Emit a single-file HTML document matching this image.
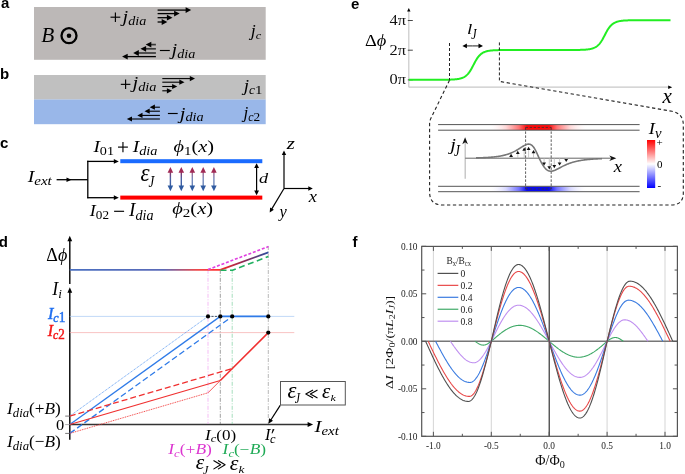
<!DOCTYPE html>
<html><head><meta charset="utf-8"><style>html,body{margin:0;padding:0;background:#fff;overflow:hidden}svg{display:block;will-change:transform}</style></head>
<body>
<svg width="685" height="474" viewBox="0 0 685 474">
<defs><linearGradient id="gArr" x1="0" y1="0" x2="0" y2="1"><stop offset="0" stop-color="#a02a55"/><stop offset="0.2" stop-color="#7a3a70"/><stop offset="0.5" stop-color="#4a64a8"/><stop offset="1" stop-color="#2f5aa0"/></linearGradient><linearGradient id="gPhiH" gradientUnits="userSpaceOnUse" x1="70" y1="0" x2="220" y2="0"><stop offset="0" stop-color="#4a6fc0"/><stop offset="0.62" stop-color="#5a6ab8"/><stop offset="0.85" stop-color="#f04848"/><stop offset="1" stop-color="#ff3030"/></linearGradient><linearGradient id="gPhiS" gradientUnits="userSpaceOnUse" x1="220" y1="0" x2="268" y2="0"><stop offset="0" stop-color="#ff2828"/><stop offset="0.5" stop-color="#8a2a55"/><stop offset="1" stop-color="#2f4f9f"/></linearGradient><linearGradient id="gRed" gradientUnits="userSpaceOnUse" x1="488" y1="0" x2="588" y2="0"><stop offset="0" stop-color="#fff" stop-opacity="0"/><stop offset="0.18" stop-color="#ffd8d8"/><stop offset="0.31" stop-color="#ff7575"/><stop offset="0.39" stop-color="#ff0a0a"/><stop offset="0.61" stop-color="#ff0a0a"/><stop offset="0.69" stop-color="#ff7575"/><stop offset="0.82" stop-color="#ffd8d8"/><stop offset="1" stop-color="#fff" stop-opacity="0"/></linearGradient><linearGradient id="gBlue" gradientUnits="userSpaceOnUse" x1="488" y1="0" x2="588" y2="0"><stop offset="0" stop-color="#fff" stop-opacity="0"/><stop offset="0.18" stop-color="#d8d8ff"/><stop offset="0.31" stop-color="#7575ff"/><stop offset="0.39" stop-color="#0a0af0"/><stop offset="0.61" stop-color="#0a0af0"/><stop offset="0.69" stop-color="#7575ff"/><stop offset="0.82" stop-color="#d8d8ff"/><stop offset="1" stop-color="#fff" stop-opacity="0"/></linearGradient><linearGradient id="gCb" x1="0" y1="0" x2="0" y2="1"><stop offset="0" stop-color="#ff0000"/><stop offset="0.5" stop-color="#ffffff"/><stop offset="1" stop-color="#0000ff"/></linearGradient></defs>
<rect id="bg" width="685" height="474" fill="#fff"/>
<text x="1" y="8" font-family="&quot;Liberation Sans&quot;, sans-serif" font-weight="bold" font-size="15">a</text>
<rect x="34" y="7" width="231.7" height="52.8" fill="#bcb8b7"/>
<text id="aB" transform="translate(41.18 42.08) scale(1.0153 1.0222)" x="0" y="0" font-family="&quot;Liberation Serif&quot;, serif" font-weight="normal" font-size="21" fill="#000"><tspan font-style="italic">B</tspan></text>
<circle cx="69" cy="35.7" r="7.5" fill="none" stroke="#000" stroke-width="2.3"/>
<circle cx="69" cy="35.7" r="2.3" fill="#000"/>
<text id="a_p" transform="translate(122.47 22.11) scale(1.1325 0.9254)" x="0" y="0" font-family="&quot;Liberation Serif&quot;, serif" font-weight="normal" font-size="18" fill="#000"><tspan font-style="italic">j</tspan><tspan font-style="italic" font-size="12.5" dy="3">dia</tspan></text>
<line x1="110.50" y1="17.20" x2="120.30" y2="17.20" stroke="#000" stroke-width="1.15" />
<line x1="115.40" y1="12.40" x2="115.40" y2="22.00" stroke="#000" stroke-width="1.15" />
<text id="a_m" transform="translate(171.57 54.83) scale(1.1357 0.9327)" x="0" y="0" font-family="&quot;Liberation Serif&quot;, serif" font-weight="normal" font-size="18" fill="#000"><tspan font-style="italic">j</tspan><tspan font-style="italic" font-size="12.5" dy="3">dia</tspan></text>
<line x1="159.90" y1="50.50" x2="169.80" y2="50.50" stroke="#000" stroke-width="1.15" />
<line x1="157.60" y1="10.10" x2="187.84" y2="10.10" stroke="#000" stroke-width="1.3" />
<polygon points="191.20,10.10 185.60,13.00 185.60,7.20" fill="#000"/>
<line x1="157.60" y1="13.60" x2="176.34" y2="13.60" stroke="#000" stroke-width="1.3" />
<polygon points="179.70,13.60 174.10,16.50 174.10,10.70" fill="#000"/>
<line x1="157.60" y1="17.70" x2="169.14" y2="17.70" stroke="#000" stroke-width="1.3" />
<polygon points="172.50,17.70 166.90,20.60 166.90,14.80" fill="#000"/>
<line x1="157.60" y1="22.00" x2="163.94" y2="22.00" stroke="#000" stroke-width="1.3" />
<polygon points="167.30,22.00 161.70,24.90 161.70,19.10" fill="#000"/>
<line x1="155.90" y1="44.60" x2="149.06" y2="44.60" stroke="#3a3a3a" stroke-width="1.7" />
<polygon points="145.70,44.60 151.30,41.70 151.30,47.50" fill="#000"/>
<line x1="155.90" y1="48.80" x2="143.86" y2="48.80" stroke="#3a3a3a" stroke-width="1.7" />
<polygon points="140.50,48.80 146.10,45.90 146.10,51.70" fill="#000"/>
<line x1="155.90" y1="53.00" x2="136.56" y2="53.00" stroke="#3a3a3a" stroke-width="1.7" />
<polygon points="133.20,53.00 138.80,50.10 138.80,55.90" fill="#000"/>
<line x1="155.90" y1="56.60" x2="125.46" y2="56.60" stroke="#000" stroke-width="1.3" />
<polygon points="122.10,56.60 127.70,53.70 127.70,59.50" fill="#000"/>
<text id="a_jc" transform="translate(250.68 36.46) scale(0.9967 0.8716)" x="0" y="0" font-family="&quot;Liberation Serif&quot;, serif" font-weight="normal" font-size="18" fill="#000"><tspan font-style="italic">j</tspan><tspan font-style="italic" font-size="12.5" dy="3">c</tspan></text>
<text x="0" y="79" font-family="&quot;Liberation Sans&quot;, sans-serif" font-weight="bold" font-size="15">b</text>
<rect x="34" y="75" width="231.7" height="24.6" fill="#c0c0c0"/>
<rect x="34" y="99.5" width="231.7" height="24.7" fill="#99b7e9"/>
<text id="b_p" transform="translate(132.45 88.46) scale(1.1496 0.9264)" x="0" y="0" font-family="&quot;Liberation Serif&quot;, serif" font-weight="normal" font-size="18" fill="#000"><tspan font-style="italic">j</tspan><tspan font-style="italic" font-size="12.5" dy="3">dia</tspan></text>
<line x1="120.80" y1="84.35" x2="130.40" y2="84.35" stroke="#000" stroke-width="1.15" />
<line x1="125.60" y1="79.60" x2="125.60" y2="89.10" stroke="#000" stroke-width="1.15" />
<text id="b_m" transform="translate(179.71 118.57) scale(1.1414 0.9266)" x="0" y="0" font-family="&quot;Liberation Serif&quot;, serif" font-weight="normal" font-size="18" fill="#000"><tspan font-style="italic">j</tspan><tspan font-style="italic" font-size="12.5" dy="3">dia</tspan></text>
<line x1="167.90" y1="113.50" x2="177.70" y2="113.50" stroke="#000" stroke-width="1.15" />
<line x1="162.30" y1="78.60" x2="191.88" y2="78.60" stroke="#000" stroke-width="1.1" />
<polygon points="195.00,78.60 189.80,81.20 189.80,76.00" fill="#000"/>
<line x1="162.30" y1="82.20" x2="181.38" y2="82.20" stroke="#000" stroke-width="1.1" />
<polygon points="184.50,82.20 179.30,84.80 179.30,79.60" fill="#000"/>
<line x1="162.30" y1="86.50" x2="174.18" y2="86.50" stroke="#000" stroke-width="1.1" />
<polygon points="177.30,86.50 172.10,89.10 172.10,83.90" fill="#000"/>
<line x1="162.30" y1="90.80" x2="168.98" y2="90.80" stroke="#000" stroke-width="1.1" />
<polygon points="172.10,90.80 166.90,93.40 166.90,88.20" fill="#000"/>
<line x1="159.90" y1="107.20" x2="152.82" y2="107.20" stroke="#000" stroke-width="1.1" />
<polygon points="149.70,107.20 154.90,104.60 154.90,109.80" fill="#000"/>
<line x1="159.90" y1="111.20" x2="147.62" y2="111.20" stroke="#000" stroke-width="1.1" />
<polygon points="144.50,111.20 149.70,108.60 149.70,113.80" fill="#000"/>
<line x1="159.90" y1="115.40" x2="140.42" y2="115.40" stroke="#000" stroke-width="1.1" />
<polygon points="137.30,115.40 142.50,112.80 142.50,118.00" fill="#000"/>
<line x1="159.90" y1="119.00" x2="129.92" y2="119.00" stroke="#000" stroke-width="1.1" />
<polygon points="126.80,119.00 132.00,116.40 132.00,121.60" fill="#000"/>
<text id="b_jc1" transform="translate(243.64 91.49) scale(1.0652 0.9324)" x="0" y="0" font-family="&quot;Liberation Serif&quot;, serif" font-weight="normal" font-size="18" fill="#000"><tspan font-style="italic">j</tspan><tspan font-style="italic" font-size="12.5" dy="3">c</tspan><tspan font-style="normal" font-size="14">1</tspan></text>
<text id="b_jc2" transform="translate(243.43 118.06) scale(0.9546 0.9333)" x="0" y="0" font-family="&quot;Liberation Serif&quot;, serif" font-weight="normal" font-size="18" fill="#000"><tspan font-style="italic">j</tspan><tspan font-style="italic" font-size="12.5" dy="3">c</tspan><tspan font-style="normal" font-size="14">2</tspan></text>
<text x="0" y="147.6" font-family="&quot;Liberation Sans&quot;, sans-serif" font-weight="bold" font-size="15">c</text>
<text id="c_iext" transform="translate(27.70 182.29) scale(1.1551 0.9699)" x="0" y="0" font-family="&quot;Liberation Serif&quot;, serif" font-weight="normal" font-size="17" fill="#000"><tspan font-style="italic">I</tspan><tspan font-style="italic" font-size="13" dy="3">ext</tspan></text>
<line x1="56.60" y1="179.70" x2="87.80" y2="179.70" stroke="#000" stroke-width="1.3" />
<polygon points="71.50,179.70 66.50,182.00 66.50,177.40" fill="#000"/>
<line x1="87.80" y1="160.80" x2="87.80" y2="198.30" stroke="#000" stroke-width="1.3" />
<line x1="87.20" y1="161.40" x2="115.80" y2="161.40" stroke="#000" stroke-width="1.3" />
<polygon points="118.80,161.40 113.80,163.80 113.80,159.00" fill="#000"/>
<line x1="87.20" y1="197.70" x2="115.80" y2="197.70" stroke="#000" stroke-width="1.3" />
<polygon points="118.80,197.70 113.80,200.10 113.80,195.30" fill="#000"/>
<rect x="120.3" y="159.2" width="142" height="4" fill="#1a6bff"/>
<rect x="120.3" y="195.6" width="142" height="4" fill="#ff0000"/>
<rect x="169.70000000000002" y="170" width="1.4" height="18" fill="url(#gArr)" opacity="1"/>
<polygon points="170.40,167.10 173.20,172.80 167.60,172.80" fill="#a02a55"/>
<polygon points="170.40,191.20 167.60,185.50 173.20,185.50" fill="#2f5aa0"/>
<rect x="180.60000000000002" y="170" width="1.4" height="18" fill="url(#gArr)" opacity="1"/>
<polygon points="181.30,167.10 184.10,172.80 178.50,172.80" fill="#a02a55"/>
<polygon points="181.30,191.20 178.50,185.50 184.10,185.50" fill="#2f5aa0"/>
<rect x="191.60000000000002" y="170" width="1.4" height="18" fill="url(#gArr)" opacity="0.75"/>
<polygon points="192.30,167.10 195.10,172.80 189.50,172.80" fill="#a02a55"/>
<polygon points="192.30,191.20 189.50,185.50 195.10,185.50" fill="#2f5aa0"/>
<rect x="202.5" y="170" width="1.4" height="18" fill="url(#gArr)" opacity="0.75"/>
<polygon points="203.20,167.10 206.00,172.80 200.40,172.80" fill="#a02a55"/>
<polygon points="203.20,191.20 200.40,185.50 206.00,185.50" fill="#2f5aa0"/>
<rect x="213.20000000000002" y="170" width="1.4" height="18" fill="url(#gArr)" opacity="0.75"/>
<polygon points="213.90,167.10 216.70,172.80 211.10,172.80" fill="#a02a55"/>
<polygon points="213.90,191.20 211.10,185.50 216.70,185.50" fill="#2f5aa0"/>
<line x1="256.60" y1="167.00" x2="256.60" y2="191.50" stroke="#000" stroke-width="1.2" />
<polygon points="256.60,163.20 259.00,168.00 254.20,168.00" fill="#000"/>
<polygon points="256.60,195.20 254.20,190.40 259.00,190.40" fill="#000"/>
<text id="c_d" transform="translate(258.88 182.93) scale(1.0765 0.8630)" x="0" y="0" font-family="&quot;Liberation Serif&quot;, serif" font-weight="normal" font-size="17" fill="#000"><tspan font-style="italic">d</tspan></text>
<text id="c_top" transform="translate(93.43 152.15) scale(1.1348 1.0215)" x="0" y="0" font-family="&quot;Liberation Serif&quot;, serif" font-weight="normal" font-size="17" fill="#000"><tspan font-style="italic">I</tspan><tspan font-style="normal" font-size="12.5" dy="3">01</tspan></text>
<line x1="118.00" y1="147.10" x2="127.90" y2="147.10" stroke="#000" stroke-width="1.15" />
<line x1="122.95" y1="142.00" x2="122.95" y2="152.20" stroke="#000" stroke-width="1.15" />
<text id="c_top2" transform="translate(132.72 151.86) scale(1.1434 0.9927)" x="0" y="0" font-family="&quot;Liberation Serif&quot;, serif" font-weight="normal" font-size="17" fill="#000"><tspan font-style="italic">I</tspan><tspan font-style="italic" font-size="12.5" dy="3">dia</tspan></text>
<text id="c_phi1" transform="translate(173.40 151.53) scale(1.1955 0.9948)" x="0" y="0" font-family="&quot;Liberation Serif&quot;, serif" font-weight="normal" font-size="17" fill="#000"><tspan font-style="italic">ϕ</tspan><tspan font-style="normal" font-size="12.5" dy="3">1</tspan><tspan font-style="normal" dy="-3">(</tspan><tspan font-style="italic">x</tspan><tspan font-style="normal">)</tspan></text>
<text id="c_bot" transform="translate(89.82 216.16) scale(1.0550 1.0131)" x="0" y="0" font-family="&quot;Liberation Serif&quot;, serif" font-weight="normal" font-size="17" fill="#000"><tspan font-style="italic">I</tspan><tspan font-style="normal" font-size="12.5" dy="3">02</tspan></text>
<line x1="114.10" y1="211.30" x2="124.10" y2="211.30" stroke="#000" stroke-width="1.15" />
<text id="c_bot2" transform="translate(129.10 216.43) scale(1.1300 1.0903)" x="0" y="0" font-family="&quot;Liberation Serif&quot;, serif" font-weight="normal" font-size="17" fill="#000"><tspan font-style="italic">I</tspan><tspan font-style="italic" font-size="12.5" dy="3">dia</tspan></text>
<text id="c_phi2" transform="translate(172.22 214.08) scale(1.2049 0.9269)" x="0" y="0" font-family="&quot;Liberation Serif&quot;, serif" font-weight="normal" font-size="17" fill="#000"><tspan font-style="italic">ϕ</tspan><tspan font-style="normal" font-size="12.5" dy="3">2</tspan><tspan font-style="normal" dy="-3">(</tspan><tspan font-style="italic">x</tspan><tspan font-style="normal">)</tspan></text>
<text id="c_eps" transform="translate(140.43 181.43) scale(1.2768 1.3665)" x="0" y="0" font-family="&quot;Liberation Serif&quot;, serif" font-weight="normal" font-size="18" fill="#000"><tspan font-style="italic">ε</tspan></text>
<text id="c_epsJ" transform="translate(148.46 186.81) scale(1.0792 1.3295)" x="0" y="0" font-family="&quot;Liberation Serif&quot;, serif" font-weight="normal" font-size="12" fill="#000"><tspan font-style="italic">J</tspan></text>
<line x1="284.00" y1="188.50" x2="284.00" y2="153.30" stroke="#000" stroke-width="1.2" />
<polygon points="284.00,150.60 286.20,155.10 281.80,155.10" fill="#000"/>
<line x1="284.00" y1="188.50" x2="310.10" y2="188.50" stroke="#000" stroke-width="1.2" />
<polygon points="312.80,188.50 308.30,190.70 308.30,186.30" fill="#000"/>
<line x1="284.00" y1="188.50" x2="271.08" y2="210.18" stroke="#000" stroke-width="1.2" />
<polygon points="269.70,212.50 270.11,207.51 273.89,209.76" fill="#000"/>
<text id="c_z" transform="translate(286.79 148.60) scale(1.3000 1.0000)" x="0" y="0" font-family="&quot;Liberation Serif&quot;, serif" font-weight="normal" font-size="16" fill="#000"><tspan font-style="italic">z</tspan></text>
<text id="c_x" transform="translate(308.64 201.59) scale(1.1519 1.0944)" x="0" y="0" font-family="&quot;Liberation Serif&quot;, serif" font-weight="normal" font-size="16" fill="#000"><tspan font-style="italic">x</tspan></text>
<text id="c_y" transform="translate(279.56 217.13) scale(1.0255 1.0422)" x="0" y="0" font-family="&quot;Liberation Serif&quot;, serif" font-weight="normal" font-size="16" fill="#000"><tspan font-style="italic">y</tspan></text>
<text x="-1.2" y="247" font-family="&quot;Liberation Sans&quot;, sans-serif" font-weight="bold" font-size="15">d</text>
<line x1="69.80" y1="284.00" x2="69.80" y2="240.00" stroke="#000" stroke-width="1.4" />
<polygon points="69.80,235.80 72.20,241.30 67.40,241.30" fill="#000"/>
<line x1="69.80" y1="439.80" x2="69.80" y2="291.00" stroke="#000" stroke-width="1.4" />
<polygon points="69.80,287.30 72.20,292.80 67.40,292.80" fill="#000"/>
<line x1="69.80" y1="424.50" x2="308.00" y2="424.50" stroke="#333" stroke-width="1.6" />
<polygon points="313.10,424.50 307.60,427.10 307.60,421.90" fill="#000"/>
<line x1="65.20" y1="416.10" x2="69.80" y2="416.10" stroke="#555" stroke-width="0.8" />
<line x1="65.20" y1="424.60" x2="69.80" y2="424.60" stroke="#999" stroke-width="0.8" />
<line x1="65.20" y1="433.40" x2="69.80" y2="433.40" stroke="#555" stroke-width="0.8" />
<line x1="69.80" y1="316.40" x2="294.30" y2="316.40" stroke="#a8c8f4" stroke-width="0.7" />
<line x1="69.80" y1="332.60" x2="294.30" y2="332.60" stroke="#f6aaaa" stroke-width="0.7" />
<line x1="208.00" y1="269.80" x2="208.00" y2="424.00" stroke="#f0a0f0" stroke-width="0.7" stroke-dasharray="4,1.5,1,1.5"/>
<line x1="220.30" y1="269.80" x2="220.30" y2="424.00" stroke="#777" stroke-width="0.7" stroke-dasharray="4,1.5,1,1.5"/>
<line x1="232.20" y1="269.80" x2="232.20" y2="424.00" stroke="#80d0a0" stroke-width="0.7" stroke-dasharray="4,1.5,1,1.5"/>
<line x1="268.30" y1="246.00" x2="268.30" y2="424.00" stroke="#999" stroke-width="0.7" stroke-dasharray="4,1.5,1,1.5"/>
<line x1="69.80" y1="416.10" x2="208.00" y2="316.40" stroke="#5a9af0" stroke-width="0.9" stroke-dasharray="1,0.8"/>
<line x1="69.80" y1="424.50" x2="220.30" y2="316.40" stroke="#2f7be8" stroke-width="1.3" />
<line x1="69.80" y1="433.40" x2="232.20" y2="316.40" stroke="#2f7be8" stroke-width="1.3" stroke-dasharray="6,3"/>
<line x1="220.30" y1="316.40" x2="268.30" y2="316.40" stroke="#2f7be8" stroke-width="1.8" />
<line x1="208.00" y1="316.40" x2="220.30" y2="316.40" stroke="#333" stroke-width="0.8" stroke-dasharray="2,1.5"/>
<line x1="69.80" y1="424.50" x2="220.30" y2="380.50" stroke="#f03030" stroke-width="1.3" />
<path d="M220.30,380.50 L268.30,332.60" fill="none" stroke="#f03030" stroke-width="1.6" stroke-linejoin="round" />
<line x1="69.80" y1="416.10" x2="232.20" y2="368.60" stroke="#f03030" stroke-width="1.3" stroke-dasharray="6,3"/>
<line x1="69.80" y1="433.40" x2="208.00" y2="392.80" stroke="#f03030" stroke-width="0.9" stroke-dasharray="1,0.8"/>
<line x1="208.00" y1="392.80" x2="220.30" y2="380.50" stroke="#f03030" stroke-width="0.8" />
<line x1="69.80" y1="269.80" x2="220.30" y2="269.80" stroke="url(#gPhiH)" stroke-width="1.8" />
<path d="M220.3,269.8 L268.4,252.4" stroke="url(#gPhiS)" stroke-width="1.8" fill="none"/>
<line x1="208.00" y1="269.60" x2="268.40" y2="246.60" stroke="#e040e0" stroke-width="1.6" stroke-dasharray="3,1.8"/>
<path d="M220.50,270.20 L232.50,270.20 L268.30,256.60" fill="none" stroke="#20b060" stroke-width="1.6" stroke-linejoin="round" stroke-dasharray="6,3.5"/>
<circle cx="208" cy="316.4" r="2.1" fill="#000"/>
<circle cx="220.3" cy="316.4" r="2.1" fill="#000"/>
<circle cx="232.2" cy="316.4" r="2.1" fill="#000"/>
<circle cx="268.3" cy="316.4" r="2.1" fill="#000"/>
<circle cx="268.3" cy="332.6" r="2.1" fill="#000"/>
<text id="d_dphi" transform="translate(46.35 261.02) scale(1.0015 0.9918)" x="0" y="0" font-family="&quot;Liberation Serif&quot;, serif" font-weight="normal" font-size="18" fill="#000"><tspan font-style="normal">Δ</tspan><tspan font-style="italic">ϕ</tspan></text>
<text id="d_ii" transform="translate(52.21 294.95) scale(1.0565 1.0773)" x="0" y="0" font-family="&quot;Liberation Serif&quot;, serif" font-weight="normal" font-size="17" fill="#000"><tspan font-style="italic">I</tspan><tspan font-style="italic" font-size="12.5" dy="3">i</tspan></text>
<text id="d_ic1" transform="translate(47.92 319.03) scale(0.9604 1.0302)" x="0" y="0" font-family="&quot;Liberation Serif&quot;, serif" font-weight="normal" font-size="17" fill="#1e6ef0" stroke="#1e6ef0" stroke-width="0.45"><tspan font-style="italic">I</tspan><tspan font-style="italic" font-size="12.5" dy="3">c</tspan><tspan font-style="normal" font-size="14">1</tspan></text>
<text id="d_ic2" transform="translate(47.82 336.33) scale(0.9346 0.9827)" x="0" y="0" font-family="&quot;Liberation Serif&quot;, serif" font-weight="normal" font-size="17" fill="#f51515" stroke="#f51515" stroke-width="0.45"><tspan font-style="italic">I</tspan><tspan font-style="italic" font-size="12.5" dy="3">c</tspan><tspan font-style="normal" font-size="14">2</tspan></text>
<text id="d_idp" transform="translate(7.08 414.25) scale(1.0158 0.9908)" x="0" y="0" font-family="&quot;Liberation Serif&quot;, serif" font-weight="normal" font-size="17" fill="#000"><tspan font-style="italic">I</tspan><tspan font-style="italic" font-size="12.5" dy="3">dia</tspan><tspan font-style="normal" dy="-3">(+</tspan><tspan font-style="italic">B</tspan><tspan font-style="normal">)</tspan></text>
<text id="d_zero" transform="translate(56.02 429.74) scale(1.0956 1.0255)" x="0" y="0" font-family="&quot;Liberation Serif&quot;, serif" font-weight="normal" font-size="15" fill="#000"><tspan font-style="normal">0</tspan></text>
<text id="d_idm" transform="translate(7.00 446.67) scale(1.0176 1.0364)" x="0" y="0" font-family="&quot;Liberation Serif&quot;, serif" font-weight="normal" font-size="17" fill="#000"><tspan font-style="italic">I</tspan><tspan font-style="italic" font-size="12.5" dy="3">dia</tspan><tspan font-style="normal" dy="-3">(−</tspan><tspan font-style="italic">B</tspan><tspan font-style="normal">)</tspan></text>
<text id="d_ic0" transform="translate(205.04 439.56) scale(1.0026 0.8916)" x="0" y="0" font-family="&quot;Liberation Serif&quot;, serif" font-weight="normal" font-size="17" fill="#000"><tspan font-style="italic">I</tspan><tspan font-style="italic" font-size="12.5" dy="3">c</tspan><tspan font-style="normal" dy="-3">(0)</tspan></text>
<text id="d_icpI" transform="translate(264.97 439.75) scale(0.9621 0.9447)" x="0" y="0" font-family="&quot;Liberation Serif&quot;, serif" font-weight="normal" font-size="17" fill="#000"><tspan font-style="italic">I</tspan></text>
<polygon points="272.7,428.9 274.5,429.2 272.3,433.5 271.6,433.3" fill="#000"/>
<text id="d_icpc" transform="translate(269.90 443.21) scale(0.9995 1.0430)" x="0" y="0" font-family="&quot;Liberation Serif&quot;, serif" font-weight="normal" font-size="12.5" fill="#000"><tspan font-style="italic">c</tspan></text>
<text id="d_icpb" transform="translate(168.14 454.35) scale(1.0289 0.8353)" x="0" y="0" font-family="&quot;Liberation Serif&quot;, serif" font-weight="normal" font-size="17" fill="#dc35d0"><tspan font-style="italic">I</tspan><tspan font-style="italic" font-size="12.5" dy="3">c</tspan><tspan font-style="normal" dy="-3">(+</tspan><tspan font-style="italic">B</tspan><tspan font-style="normal">)</tspan></text>
<text id="d_icmb" transform="translate(222.58 454.28) scale(1.0222 0.8291)" x="0" y="0" font-family="&quot;Liberation Serif&quot;, serif" font-weight="normal" font-size="17" fill="#1eaa55"><tspan font-style="italic">I</tspan><tspan font-style="italic" font-size="12.5" dy="3">c</tspan><tspan font-style="normal" dy="-3">(−</tspan><tspan font-style="italic">B</tspan><tspan font-style="normal">)</tspan></text>
<text id="d_iext" transform="translate(314.59 432.05) scale(1.1457 0.8918)" x="0" y="0" font-family="&quot;Liberation Serif&quot;, serif" font-weight="normal" font-size="18" fill="#000"><tspan font-style="italic">I</tspan><tspan font-style="italic" font-size="13" dy="3">ext</tspan></text>
<text id="d_e1" transform="translate(195.68 469.49) scale(1.1984 1.1837)" x="0" y="0" font-family="&quot;Liberation Serif&quot;, serif" font-weight="normal" font-size="18" fill="#000"><tspan font-style="italic">ε</tspan></text>
<text id="d_e1J" transform="translate(202.94 474.18) scale(1.0190 1.1026)" x="0" y="0" font-family="&quot;Liberation Serif&quot;, serif" font-weight="normal" font-size="12" fill="#000"><tspan font-style="italic">J</tspan></text>
<path d="M213.90,460.70 L220.62,464.80 L213.90,468.90" fill="none" stroke="#000" stroke-width="1.1" stroke-linejoin="round" stroke-linecap="round"/>
<path d="M218.38,460.70 L225.10,464.80 L218.38,468.90" fill="none" stroke="#000" stroke-width="1.1" stroke-linejoin="round" stroke-linecap="round"/>
<text id="d_e2" transform="translate(229.81 469.53) scale(1.2231 1.1924)" x="0" y="0" font-family="&quot;Liberation Serif&quot;, serif" font-weight="normal" font-size="18" fill="#000"><tspan font-style="italic">ε</tspan></text>
<text id="d_e2k" transform="translate(238.42 472.90) scale(1.0980 0.8446)" x="0" y="0" font-family="&quot;Liberation Serif&quot;, serif" font-weight="normal" font-size="12" fill="#000"><tspan font-style="italic">k</tspan></text>
<rect x="280.5" y="381.5" width="64.8" height="23.5" fill="#fff" stroke="#555" stroke-width="1"/>
<text id="d_e3" transform="translate(287.44 398.06) scale(1.2599 1.2262)" x="0" y="0" font-family="&quot;Liberation Serif&quot;, serif" font-weight="normal" font-size="18" fill="#000"><tspan font-style="italic">ε</tspan></text>
<text id="d_e3J" transform="translate(294.79 402.81) scale(0.9904 1.1738)" x="0" y="0" font-family="&quot;Liberation Serif&quot;, serif" font-weight="normal" font-size="12" fill="#000"><tspan font-style="italic">J</tspan></text>
<path d="M312.58,390.15 L305.80,394.00 L312.58,397.85" fill="none" stroke="#000" stroke-width="1.1" stroke-linejoin="round" stroke-linecap="round"/>
<path d="M317.10,390.15 L310.32,394.00 L317.10,397.85" fill="none" stroke="#000" stroke-width="1.1" stroke-linejoin="round" stroke-linecap="round"/>
<text id="d_e4" transform="translate(322.01 397.54) scale(1.1712 1.1689)" x="0" y="0" font-family="&quot;Liberation Serif&quot;, serif" font-weight="normal" font-size="18" fill="#000"><tspan font-style="italic">ε</tspan></text>
<text id="d_e4k" transform="translate(330.58 401.29) scale(1.0027 0.7713)" x="0" y="0" font-family="&quot;Liberation Serif&quot;, serif" font-weight="normal" font-size="12" fill="#000"><tspan font-style="italic">k</tspan></text>
<line x1="280.20" y1="405.40" x2="270.02" y2="421.27" stroke="#000" stroke-width="1.2" />
<polygon points="268.40,423.80 269.16,418.35 273.04,420.83" fill="#000"/>
<text x="351" y="9" font-family="&quot;Liberation Sans&quot;, sans-serif" font-weight="bold" font-size="15">e</text>
<line x1="408.80" y1="87.20" x2="408.80" y2="11.00" stroke="#c8c8c8" stroke-width="1.2" />
<polygon points="408.80,8.00 410.50,11.50 407.10,11.50" fill="#000"/>
<line x1="408.80" y1="87.20" x2="669.00" y2="87.20" stroke="#c8c8c8" stroke-width="1.2" />
<polygon points="672.20,87.20 668.20,89.00 668.20,85.40" fill="#000"/>
<line x1="407.80" y1="20.50" x2="412.80" y2="20.50" stroke="#333" stroke-width="0.9" />
<line x1="407.80" y1="50.20" x2="412.80" y2="50.20" stroke="#333" stroke-width="0.9" />
<line x1="407.80" y1="79.90" x2="412.80" y2="79.90" stroke="#333" stroke-width="0.9" />
<text transform="translate(406 25) scale(1.17 1)" font-family="&quot;Liberation Serif&quot;, serif" font-size="14" text-anchor="end" fill="#111">4π</text>
<text transform="translate(406 54.7) scale(1.17 1)" font-family="&quot;Liberation Serif&quot;, serif" font-size="14" text-anchor="end" fill="#111">2π</text>
<text transform="translate(406 84.2) scale(1.17 1)" font-family="&quot;Liberation Serif&quot;, serif" font-size="14" text-anchor="end" fill="#111">0π</text>
<text id="e_dphi" transform="translate(364.92 46.41) scale(1.1469 0.9872)" x="0" y="0" font-family="&quot;Liberation Serif&quot;, serif" font-weight="normal" font-size="16" fill="#000"><tspan font-style="normal">Δ</tspan><tspan font-style="italic">ϕ</tspan></text>
<path d="M409.00,79.80 L409.50,79.80 L410.00,79.80 L410.50,79.80 L411.00,79.80 L411.50,79.80 L412.00,79.80 L412.50,79.80 L413.00,79.80 L413.50,79.80 L414.00,79.80 L414.50,79.80 L415.00,79.80 L415.50,79.80 L416.00,79.80 L416.50,79.80 L417.00,79.80 L417.50,79.80 L418.00,79.80 L418.50,79.80 L419.00,79.80 L419.50,79.80 L420.00,79.80 L420.50,79.80 L421.00,79.80 L421.50,79.80 L422.00,79.80 L422.50,79.80 L423.00,79.80 L423.50,79.80 L424.00,79.80 L424.50,79.80 L425.00,79.80 L425.50,79.80 L426.00,79.80 L426.50,79.80 L427.00,79.80 L427.50,79.80 L428.00,79.80 L428.50,79.80 L429.00,79.80 L429.50,79.80 L430.00,79.80 L430.50,79.80 L431.00,79.80 L431.50,79.80 L432.00,79.80 L432.50,79.80 L433.00,79.80 L433.50,79.79 L434.00,79.79 L434.50,79.79 L435.00,79.79 L435.50,79.79 L436.00,79.79 L436.50,79.79 L437.00,79.79 L437.50,79.79 L438.00,79.79 L438.50,79.79 L439.00,79.78 L439.50,79.78 L440.00,79.78 L440.50,79.78 L441.00,79.78 L441.50,79.77 L442.00,79.77 L442.50,79.77 L443.00,79.76 L443.50,79.76 L444.00,79.75 L444.50,79.75 L445.00,79.74 L445.50,79.74 L446.00,79.73 L446.50,79.72 L447.00,79.72 L447.50,79.71 L448.00,79.70 L448.50,79.68 L449.00,79.67 L449.50,79.66 L450.00,79.64 L450.50,79.63 L451.00,79.61 L451.50,79.59 L452.00,79.56 L452.50,79.54 L453.00,79.51 L453.50,79.48 L454.00,79.45 L454.50,79.41 L455.00,79.37 L455.50,79.32 L456.00,79.27 L456.50,79.21 L457.00,79.15 L457.50,79.08 L458.00,79.00 L458.50,78.91 L459.00,78.82 L459.50,78.71 L460.00,78.60 L460.50,78.47 L461.00,78.32 L461.50,78.17 L462.00,77.99 L462.50,77.80 L463.00,77.58 L463.50,77.35 L464.00,77.09 L464.50,76.80 L465.00,76.49 L465.50,76.14 L466.00,75.76 L466.50,75.34 L467.00,74.88 L467.50,74.38 L468.00,73.83 L468.50,73.24 L469.00,72.59 L469.50,71.90 L470.00,71.16 L470.50,70.38 L471.00,69.54 L471.50,68.67 L472.00,67.76 L472.50,66.82 L473.00,65.87 L473.50,64.90 L474.00,63.93 L474.50,62.98 L475.00,62.04 L475.50,61.13 L476.00,60.26 L476.50,59.42 L477.00,58.64 L477.50,57.90 L478.00,57.21 L478.50,56.56 L479.00,55.97 L479.50,55.42 L480.00,54.92 L480.50,54.46 L481.00,54.04 L481.50,53.66 L482.00,53.31 L482.50,53.00 L483.00,52.71 L483.50,52.45 L484.00,52.22 L484.50,52.00 L485.00,51.81 L485.50,51.63 L486.00,51.48 L486.50,51.33 L487.00,51.20 L487.50,51.09 L488.00,50.98 L488.50,50.89 L489.00,50.80 L489.50,50.72 L490.00,50.65 L490.50,50.59 L491.00,50.53 L491.50,50.48 L492.00,50.43 L492.50,50.39 L493.00,50.35 L493.50,50.32 L494.00,50.29 L494.50,50.26 L495.00,50.24 L495.50,50.21 L496.00,50.19 L496.50,50.17 L497.00,50.16 L497.50,50.14 L498.00,50.13 L498.50,50.12 L499.00,50.10 L499.50,50.09 L500.00,50.08 L500.50,50.08 L501.00,50.07 L501.50,50.06 L502.00,50.06 L502.50,50.05 L503.00,50.05 L503.50,50.04 L504.00,50.04 L504.50,50.03 L505.00,50.03 L505.50,50.03 L506.00,50.02 L506.50,50.02 L507.00,50.02 L507.50,50.02 L508.00,50.02 L508.50,50.01 L509.00,50.01 L509.50,50.01 L510.00,50.01 L510.50,50.01 L511.00,50.01 L511.50,50.01 L512.00,50.01 L512.50,50.01 L513.00,50.01 L513.50,50.01 L514.00,50.00 L514.50,50.00 L515.00,50.00 L515.50,50.00 L516.00,50.00 L516.50,50.00 L517.00,50.00 L517.50,50.00 L518.00,50.00 L518.50,50.00 L519.00,50.00 L519.50,50.00 L520.00,50.00 L520.50,50.00 L521.00,50.00 L521.50,50.00 L522.00,50.00 L522.50,50.00 L523.00,50.00 L523.50,50.00 L524.00,50.00 L524.50,50.00 L525.00,50.00 L525.50,50.00 L526.00,50.00 L526.50,50.00 L527.00,50.00 L527.50,50.00 L528.00,50.00 L528.50,50.00 L529.00,50.00 L529.50,50.00 L530.00,50.00 L530.50,50.00 L531.00,50.00 L531.50,50.00 L532.00,50.00 L532.50,50.00 L533.00,50.00 L533.50,50.00 L534.00,50.00 L534.50,50.00 L535.00,50.00 L535.50,50.00 L536.00,50.00 L536.50,50.00 L537.00,50.00 L537.50,50.00 L538.00,50.00 L538.50,50.00 L539.00,50.00 L539.50,50.00 L540.00,50.00 L540.50,50.00 L541.00,50.00 L541.50,50.00 L542.00,50.00 L542.50,50.00 L543.00,50.00 L543.50,50.00 L544.00,50.00 L544.50,50.00 L545.00,50.00 L545.50,50.00 L546.00,50.00 L546.50,50.00 L547.00,50.00 L547.50,50.00 L548.00,50.00 L548.50,50.00 L549.00,50.00 L549.50,50.00 L550.00,50.00 L550.50,50.00 L551.00,50.00 L551.50,50.00 L552.00,50.00 L552.50,50.00 L553.00,50.00 L553.50,50.00 L554.00,50.00 L554.50,50.00 L555.00,50.00 L555.50,50.00 L556.00,50.00 L556.50,50.00 L557.00,50.00 L557.50,50.00 L558.00,50.00 L558.50,50.00 L559.00,50.00 L559.50,50.00 L560.00,50.00 L560.50,50.00 L561.00,50.00 L561.50,50.00 L562.00,50.00 L562.50,50.00 L563.00,50.00 L563.50,50.00 L564.00,50.00 L564.50,49.99 L565.00,49.99 L565.50,49.99 L566.00,49.99 L566.50,49.99 L567.00,49.99 L567.50,49.99 L568.00,49.99 L568.50,49.99 L569.00,49.99 L569.50,49.99 L570.00,49.98 L570.50,49.98 L571.00,49.98 L571.50,49.98 L572.00,49.98 L572.50,49.97 L573.00,49.97 L573.50,49.97 L574.00,49.96 L574.50,49.96 L575.00,49.96 L575.50,49.95 L576.00,49.95 L576.50,49.94 L577.00,49.93 L577.50,49.93 L578.00,49.92 L578.50,49.91 L579.00,49.90 L579.50,49.89 L580.00,49.88 L580.50,49.87 L581.00,49.85 L581.50,49.84 L582.00,49.82 L582.50,49.80 L583.00,49.78 L583.50,49.75 L584.00,49.73 L584.50,49.70 L585.00,49.67 L585.50,49.63 L586.00,49.59 L586.50,49.55 L587.00,49.50 L587.50,49.44 L588.00,49.38 L588.50,49.32 L589.00,49.25 L589.50,49.16 L590.00,49.08 L590.50,48.98 L591.00,48.87 L591.50,48.74 L592.00,48.61 L592.50,48.46 L593.00,48.30 L593.50,48.12 L594.00,47.91 L594.50,47.69 L595.00,47.45 L595.50,47.18 L596.00,46.88 L596.50,46.55 L597.00,46.19 L597.50,45.79 L598.00,45.36 L598.50,44.88 L599.00,44.36 L599.50,43.80 L600.00,43.19 L600.50,42.52 L601.00,41.81 L601.50,41.05 L602.00,40.25 L602.50,39.40 L603.00,38.51 L603.50,37.59 L604.00,36.64 L604.50,35.68 L605.00,34.71 L605.50,33.75 L606.00,32.80 L606.50,31.87 L607.00,30.98 L607.50,30.12 L608.00,29.30 L608.50,28.53 L609.00,27.81 L609.50,27.14 L610.00,26.52 L610.50,25.95 L611.00,25.42 L611.50,24.93 L612.00,24.49 L612.50,24.09 L613.00,23.72 L613.50,23.38 L614.00,23.08 L614.50,22.80 L615.00,22.55 L615.50,22.33 L616.00,22.12 L616.50,21.94 L617.00,21.77 L617.50,21.62 L618.00,21.48 L618.50,21.36 L619.00,21.24 L619.50,21.14 L620.00,21.05 L620.50,20.97 L621.00,20.90 L621.50,20.83 L622.00,20.77 L622.50,20.71 L623.00,20.66 L623.50,20.62 L624.00,20.58 L624.50,20.54 L625.00,20.51 L625.50,20.48 L626.00,20.45 L626.50,20.43 L627.00,20.40 L627.50,20.38 L628.00,20.37 L628.50,20.35 L629.00,20.34 L629.50,20.32 L630.00,20.31 L630.50,20.30 L631.00,20.29 L631.50,20.28 L632.00,20.27 L632.50,20.27 L633.00,20.26 L633.50,20.25 L634.00,20.25 L634.50,20.24 L635.00,20.24 L635.50,20.24 L636.00,20.23 L636.50,20.23 L637.00,20.23 L637.50,20.22 L638.00,20.22 L638.50,20.22 L639.00,20.22 L639.50,20.22 L640.00,20.21 L640.50,20.21 L641.00,20.21 L641.50,20.21 L642.00,20.21 L642.50,20.21 L643.00,20.21 L643.50,20.21 L644.00,20.21 L644.50,20.21 L645.00,20.21 L645.50,20.20 L646.00,20.20 L646.50,20.20 L647.00,20.20 L647.50,20.20 L648.00,20.20 L648.50,20.20 L649.00,20.20 L649.50,20.20 L650.00,20.20 L650.50,20.20 L651.00,20.20 L651.50,20.20 L652.00,20.20 L652.50,20.20 L653.00,20.20 L653.50,20.20 L654.00,20.20 L654.50,20.20 L655.00,20.20 L655.50,20.20 L656.00,20.20 L656.50,20.20 L657.00,20.20 L657.50,20.20 L658.00,20.20 L658.50,20.20 L659.00,20.20 L659.50,20.20 L660.00,20.20 L660.50,20.20 L661.00,20.20 L661.50,20.20 L662.00,20.20 L662.50,20.20 L663.00,20.20 L663.50,20.20 L664.00,20.20 L664.50,20.20 L665.00,20.20 L665.50,20.20 L666.00,20.20 L666.50,20.20 L667.00,20.20 L667.50,20.20 L668.00,20.20 L668.50,20.20 L669.00,20.20 L669.50,20.20 L670.00,20.20 L670.50,20.20" fill="none" stroke="#22ee22" stroke-width="2" stroke-linejoin="round" />
<line x1="449.50" y1="43.00" x2="449.50" y2="80.00" stroke="#222" stroke-width="1" stroke-dasharray="3,2"/>
<line x1="499.40" y1="42.40" x2="499.40" y2="81.20" stroke="#222" stroke-width="1" stroke-dasharray="3,2"/>
<line x1="472.70" y1="45.90" x2="480.30" y2="45.90" stroke="#444" stroke-width="1.2" />
<polygon points="483.00,45.90 478.50,48.30 478.50,43.50" fill="#000"/>
<line x1="472.70" y1="45.90" x2="465.10" y2="45.90" stroke="#444" stroke-width="1.2" />
<polygon points="462.40,45.90 466.90,43.50 466.90,48.30" fill="#000"/>
<text id="e_lj" transform="translate(467.03 33.87) scale(1.1893 0.9753)" x="0" y="0" font-family="&quot;Liberation Serif&quot;, serif" font-weight="normal" font-size="16" fill="#000"><tspan font-style="italic">l</tspan></text>
<text id="e_ljJ" transform="translate(471.25 39.13) scale(1.0952 1.3370)" x="0" y="0" font-family="&quot;Liberation Serif&quot;, serif" font-weight="normal" font-size="11" fill="#000"><tspan font-style="italic">J</tspan></text>
<text id="e_x" transform="translate(662.43 102.53) scale(1.2448 1.1762)" x="0" y="0" font-family="&quot;Liberation Serif&quot;, serif" font-weight="normal" font-size="17" fill="#000"><tspan font-style="italic">x</tspan></text>
<path d="M449.5,80.2 L430.8,118.5 Q429.6,121 429.6,124 L429.6,192 Q429.6,205 442.6,205 L671,205 Q683.3,205 683.3,193 L683.3,125 Q683.3,113.5 672,111.3 L499.4,81.4" fill="none" stroke="#222" stroke-width="1.1" stroke-dasharray="3.3,2.6"/>
<rect x="438.1" y="125" width="201.5" height="5" fill="url(#gRed)"/>
<rect x="438.1" y="186.5" width="201.5" height="5" fill="url(#gBlue)"/>
<line x1="438.10" y1="124.60" x2="639.60" y2="124.60" stroke="#555" stroke-width="1" />
<line x1="438.10" y1="130.20" x2="639.60" y2="130.20" stroke="#555" stroke-width="1" />
<line x1="438.10" y1="186.30" x2="639.60" y2="186.30" stroke="#555" stroke-width="1" />
<line x1="438.10" y1="191.70" x2="639.60" y2="191.70" stroke="#555" stroke-width="1" />
<line x1="525.60" y1="127.40" x2="525.60" y2="189.00" stroke="#333" stroke-width="0.8" stroke-dasharray="2.5,1.5"/>
<line x1="551.20" y1="127.40" x2="551.20" y2="189.00" stroke="#333" stroke-width="0.8" stroke-dasharray="2.5,1.5"/>
<line x1="525.60" y1="127.40" x2="551.20" y2="127.40" stroke="#333" stroke-width="0.8" stroke-dasharray="2.5,1.5"/>
<line x1="525.60" y1="189.00" x2="551.20" y2="189.00" stroke="#333" stroke-width="0.8" stroke-dasharray="2.5,1.5"/>
<line x1="465.20" y1="178.80" x2="465.20" y2="141.00" stroke="#bbb" stroke-width="1.2" />
<polygon points="465.10,137.30 467.90,144.30 465.10,142.30 462.30,144.30" fill="#111"/>
<line x1="465.20" y1="158.20" x2="612.00" y2="158.20" stroke="#666" stroke-width="1" />
<polygon points="616.30,158.30 609.30,161.10 611.30,158.30 609.30,155.50" fill="#111"/>
<path d="M476.00,157.92 L476.50,157.91 L477.00,157.89 L477.50,157.88 L478.00,157.87 L478.50,157.85 L479.00,157.84 L479.50,157.82 L480.00,157.81 L480.50,157.79 L481.00,157.77 L481.50,157.75 L482.00,157.74 L482.50,157.72 L483.00,157.69 L483.50,157.67 L484.00,157.65 L484.50,157.63 L485.00,157.60 L485.50,157.58 L486.00,157.55 L486.50,157.52 L487.00,157.49 L487.50,157.46 L488.00,157.43 L488.50,157.40 L489.00,157.36 L489.50,157.33 L490.00,157.29 L490.50,157.25 L491.00,157.21 L491.50,157.17 L492.00,157.12 L492.50,157.08 L493.00,157.03 L493.50,156.98 L494.00,156.93 L494.50,156.87 L495.00,156.82 L495.50,156.76 L496.00,156.70 L496.50,156.63 L497.00,156.56 L497.50,156.49 L498.00,156.42 L498.50,156.35 L499.00,156.27 L499.50,156.18 L500.00,156.10 L500.50,156.01 L501.00,155.92 L501.50,155.82 L502.00,155.72 L502.50,155.61 L503.00,155.50 L503.50,155.39 L504.00,155.27 L504.50,155.15 L505.00,155.02 L505.50,154.89 L506.00,154.75 L506.50,154.60 L507.00,154.45 L507.50,154.30 L508.00,154.13 L508.50,153.96 L509.00,153.79 L509.50,153.61 L510.00,153.42 L510.50,153.22 L511.00,153.02 L511.50,152.81 L512.00,152.60 L512.50,152.37 L513.00,152.14 L513.50,151.90 L514.00,151.65 L514.50,151.40 L515.00,151.13 L515.50,150.87 L516.00,150.59 L516.50,150.30 L517.00,150.01 L517.50,149.72 L518.00,149.41 L518.50,149.10 L519.00,148.79 L519.50,148.47 L520.00,148.15 L520.50,147.83 L521.00,147.51 L521.50,147.19 L522.00,146.87 L522.50,146.55 L523.00,146.25 L523.50,145.95 L524.00,145.66 L524.50,145.38 L525.00,145.13 L525.50,144.89 L526.00,144.67 L526.50,144.49 L527.00,144.33 L527.50,144.21 L528.00,144.14 L528.50,144.10 L529.00,144.12 L529.50,144.18 L530.00,144.31 L530.50,144.49 L531.00,144.75 L531.50,145.07 L532.00,145.46 L532.50,145.92 L533.00,146.47 L533.50,147.08 L534.00,147.78 L534.50,148.54 L535.00,149.38 L535.50,150.28 L536.00,151.25 L536.50,152.28 L537.00,153.35 L537.50,154.46 L538.00,155.61 L538.50,156.78 L539.00,157.96 L539.50,158.98 L540.00,159.95 L540.50,160.91 L541.00,161.85 L541.50,162.77 L542.00,163.65 L542.50,164.50 L543.00,165.31 L543.50,166.07 L544.00,166.78 L544.50,167.44 L545.00,168.05 L545.50,168.60 L546.00,169.10 L546.50,169.54 L547.00,169.92 L547.50,170.25 L548.00,170.53 L548.50,170.76 L549.00,170.93 L549.50,171.06 L550.00,171.15 L550.50,171.19 L551.00,171.20 L551.50,171.17 L552.00,171.10 L552.50,171.01 L553.00,170.89 L553.50,170.75 L554.00,170.58 L554.50,170.40 L555.00,170.20 L555.50,169.98 L556.00,169.75 L556.50,169.51 L557.00,169.27 L557.50,169.02 L558.00,168.76 L558.50,168.50 L559.00,168.23 L559.50,167.96 L560.00,167.70 L560.50,167.43 L561.00,167.17 L561.50,166.91 L562.00,166.65 L562.50,166.39 L563.00,166.14 L563.50,165.89 L564.00,165.65 L564.50,165.41 L565.00,165.18 L565.50,164.95 L566.00,164.73 L566.50,164.51 L567.00,164.30 L567.50,164.09 L568.00,163.89 L568.50,163.70 L569.00,163.51 L569.50,163.33 L570.00,163.15 L570.50,162.98 L571.00,162.81 L571.50,162.65 L572.00,162.49 L572.50,162.34 L573.00,162.19 L573.50,162.05 L574.00,161.91 L574.50,161.78 L575.00,161.65 L575.50,161.53 L576.00,161.41 L576.50,161.29 L577.00,161.18 L577.50,161.07 L578.00,160.97 L578.50,160.87 L579.00,160.77 L579.50,160.68 L580.00,160.59 L580.50,160.50 L581.00,160.42 L581.50,160.33 L582.00,160.26 L582.50,160.18 L583.00,160.11 L583.50,160.04 L584.00,159.97 L584.50,159.91 L585.00,159.84 L585.50,159.78 L586.00,159.73 L586.50,159.67 L587.00,159.62 L587.50,159.56 L588.00,159.51 L588.50,159.47 L589.00,159.42 L589.50,159.37 L590.00,159.33 L590.50,159.29 L591.00,159.25 L591.50,159.21 L592.00,159.17 L592.50,159.14 L593.00,159.10 L593.50,159.07 L594.00,159.04 L594.50,159.01 L595.00,158.98 L595.50,158.95 L596.00,158.92 L596.50,158.89 L597.00,158.87 L597.50,158.84 L598.00,158.82 L598.50,158.80 L599.00,158.78 L599.50,158.75 L600.00,158.73 L600.50,158.71 L601.00,158.70 L601.50,158.68 L602.00,158.66" fill="none" stroke="#777" stroke-width="1.6" stroke-linejoin="round" />
<line x1="511.10" y1="158.20" x2="511.10" y2="156.20" stroke="#bbb" stroke-width="0.8" />
<polygon points="511.10,153.70 513.00,156.90 509.20,156.90" fill="#111"/>
<line x1="517.80" y1="158.20" x2="517.80" y2="153.30" stroke="#bbb" stroke-width="0.8" />
<polygon points="517.80,150.80 519.70,154.00 515.90,154.00" fill="#111"/>
<line x1="524.20" y1="158.20" x2="524.20" y2="150.10" stroke="#bbb" stroke-width="0.8" />
<polygon points="524.20,147.60 526.10,150.80 522.30,150.80" fill="#111"/>
<line x1="528.60" y1="158.20" x2="528.60" y2="149.20" stroke="#bbb" stroke-width="0.8" />
<polygon points="528.60,146.70 530.50,149.90 526.70,149.90" fill="#111"/>
<line x1="533.50" y1="158.20" x2="533.50" y2="152.50" stroke="#bbb" stroke-width="0.8" />
<polygon points="533.50,150.00 535.40,153.20 531.60,153.20" fill="#111"/>
<line x1="544.10" y1="158.20" x2="544.10" y2="163.10" stroke="#bbb" stroke-width="0.8" />
<polygon points="544.10,165.60 542.20,162.40 546.00,162.40" fill="#111"/>
<line x1="549.30" y1="158.20" x2="549.30" y2="167.00" stroke="#bbb" stroke-width="0.8" />
<polygon points="549.30,169.50 547.40,166.30 551.20,166.30" fill="#111"/>
<line x1="554.30" y1="158.20" x2="554.30" y2="165.80" stroke="#bbb" stroke-width="0.8" />
<polygon points="554.30,168.30 552.40,165.10 556.20,165.10" fill="#111"/>
<line x1="559.60" y1="158.20" x2="559.60" y2="163.10" stroke="#bbb" stroke-width="0.8" />
<polygon points="559.60,165.60 557.70,162.40 561.50,162.40" fill="#111"/>
<line x1="566.20" y1="158.20" x2="566.20" y2="159.60" stroke="#bbb" stroke-width="0.8" />
<polygon points="566.20,162.10 564.30,158.90 568.10,158.90" fill="#111"/>
<text id="e_jj" transform="translate(450.23 149.91) scale(1.2738 0.9799)" x="0" y="0" font-family="&quot;Liberation Serif&quot;, serif" font-weight="normal" font-size="16" fill="#000"><tspan font-style="italic">j</tspan></text>
<text id="e_jjJ" transform="translate(454.00 156.25) scale(1.2073 1.4344)" x="0" y="0" font-family="&quot;Liberation Serif&quot;, serif" font-weight="normal" font-size="11" fill="#000"><tspan font-style="italic">J</tspan></text>
<text id="e_x2" transform="translate(613.70 171.87) scale(1.0860 1.0356)" x="0" y="0" font-family="&quot;Liberation Serif&quot;, serif" font-weight="normal" font-size="17" fill="#000"><tspan font-style="italic">x</tspan></text>
<rect x="647" y="140" width="8.2" height="48" fill="url(#gCb)"/>
<text id="e_iv" transform="translate(648.83 134.38) scale(1.2246 1.1709)" x="0" y="0" font-family="&quot;Liberation Serif&quot;, serif" font-weight="normal" font-size="15" fill="#000"><tspan font-style="italic">I</tspan><tspan font-style="italic" font-size="12" dy="3">v</tspan></text>
<text x="656.5" y="146" font-family="&quot;Liberation Serif&quot;, serif" font-size="11">+</text>
<text x="657" y="167.5" font-family="&quot;Liberation Serif&quot;, serif" font-size="11">0</text>
<text x="657.5" y="189" font-family="&quot;Liberation Serif&quot;, serif" font-size="11">-</text>
<text x="352.5" y="247" font-family="&quot;Liberation Sans&quot;, sans-serif" font-weight="bold" font-size="15">f</text>
<line x1="433.40" y1="246.40" x2="433.40" y2="436.30" stroke="#d0d0d0" stroke-width="0.9" />
<line x1="491.30" y1="246.40" x2="491.30" y2="436.30" stroke="#d0d0d0" stroke-width="0.9" />
<line x1="607.10" y1="246.40" x2="607.10" y2="436.30" stroke="#d0d0d0" stroke-width="0.9" />
<line x1="665.00" y1="246.40" x2="665.00" y2="436.30" stroke="#d0d0d0" stroke-width="0.9" />
<line x1="549.20" y1="246.40" x2="549.20" y2="436.30" stroke="#222" stroke-width="1.1" />
<line x1="421.70" y1="341.30" x2="677.40" y2="341.30" stroke="#777" stroke-width="1.6" />
<path d="M475.09,341.30 L475.46,341.57 L475.83,341.84 L476.20,342.11 L476.57,342.38 L476.94,342.64 L477.31,342.89 L477.68,343.13 L478.05,343.36 L478.42,343.59 L478.79,343.80 L479.16,344.00 L479.53,344.18 L479.91,344.35 L480.28,344.51 L480.65,344.65 L481.02,344.77 L481.39,344.87 L481.76,344.95 L482.13,345.02 L482.50,345.07 L482.87,345.09 L483.24,345.10 L483.61,345.09 L483.98,345.06 L484.35,345.00 L484.72,344.93 L485.09,344.85 L485.46,344.74 L485.83,344.61 L486.20,344.47 L486.58,344.31 L486.95,344.14 L487.32,343.95 L487.69,343.75 L488.06,343.53 L488.43,343.31 L488.80,343.07 L489.17,342.82 L489.54,342.57 L489.91,342.31 L490.28,342.05 L490.65,341.78 L491.02,341.50 L491.39,341.22 L491.76,340.89 L492.13,340.56 L492.50,340.24 L492.87,339.91 L493.25,339.58 L493.62,339.26 L493.99,338.93 L494.36,338.61 L494.73,338.29 L495.10,337.97 L495.47,337.65 L495.84,337.33 L496.21,337.01 L496.58,336.70 L496.95,336.39 L497.32,336.08 L497.69,335.77 L498.06,335.46 L498.43,335.16 L498.80,334.86 L499.17,334.56 L499.54,334.26 L499.92,333.97 L500.29,333.68 L500.66,333.40 L501.03,333.11 L501.40,332.83 L501.77,332.56 L502.14,332.29 L502.51,332.02 L502.88,331.75 L503.25,331.49 L503.62,331.24 L503.99,330.99 L504.36,330.74 L504.73,330.49 L505.10,330.26 L505.47,330.02 L505.84,329.79 L506.22,329.57 L506.59,329.35 L506.96,329.13 L507.33,328.92 L507.70,328.72 L508.07,328.52 L508.44,328.33 L508.81,328.14 L509.18,327.96 L509.55,327.78 L509.92,327.61 L510.29,327.44 L510.66,327.28 L511.03,327.13 L511.40,326.98 L511.77,326.84 L512.14,326.71 L512.51,326.58 L512.89,326.45 L513.26,326.34 L513.63,326.23 L514.00,326.12 L514.37,326.02 L514.74,325.93 L515.11,325.85 L515.48,325.77 L515.85,325.70 L516.22,325.63 L516.59,325.57 L516.96,325.52 L517.33,325.47 L517.70,325.43 L518.07,325.40 L518.44,325.38 L518.81,325.36 L519.18,325.35 L519.56,325.34 L519.93,325.34 L520.30,325.35 L520.67,325.36 L521.04,325.38 L521.41,325.41 L521.78,325.44 L522.15,325.48 L522.52,325.52 L522.89,325.57 L523.26,325.63 L523.63,325.69 L524.00,325.76 L524.37,325.84 L524.74,325.92 L525.11,326.00 L525.48,326.10 L525.85,326.20 L526.23,326.30 L526.60,326.41 L526.97,326.53 L527.34,326.65 L527.71,326.78 L528.08,326.91 L528.45,327.05 L528.82,327.19 L529.19,327.34 L529.56,327.50 L529.93,327.66 L530.30,327.82 L530.67,328.00 L531.04,328.17 L531.41,328.35 L531.78,328.54 L532.15,328.73 L532.52,328.93 L532.90,329.13 L533.27,329.33 L533.64,329.55 L534.01,329.76 L534.38,329.98 L534.75,330.20 L535.12,330.43 L535.49,330.66 L535.86,330.90 L536.23,331.14 L536.60,331.39 L536.97,331.63 L537.34,331.89 L537.71,332.14 L538.08,332.40 L538.45,332.67 L538.82,332.93 L539.19,333.20 L539.57,333.47 L539.94,333.75 L540.31,334.03 L540.68,334.31 L541.05,334.59 L541.42,334.88 L541.79,335.17 L542.16,335.46 L542.53,335.76 L542.90,336.05 L543.27,336.35 L543.64,336.65 L544.01,336.95 L544.38,337.25 L544.75,337.56 L545.12,337.87 L545.49,338.17 L545.86,338.48 L546.24,338.79 L546.61,339.10 L546.98,339.42 L547.35,339.73 L547.72,340.04 L548.09,340.36 L548.46,340.67 L548.83,340.99 L549.20,341.30 L549.57,341.61 L549.94,341.93 L550.31,342.24 L550.68,342.56 L551.05,342.87 L551.42,343.18 L551.79,343.50 L552.16,343.81 L552.54,344.12 L552.91,344.43 L553.28,344.73 L553.65,345.04 L554.02,345.35 L554.39,345.65 L554.76,345.95 L555.13,346.25 L555.50,346.55 L555.87,346.84 L556.24,347.14 L556.61,347.43 L556.98,347.72 L557.35,348.01 L557.72,348.29 L558.09,348.57 L558.46,348.85 L558.83,349.13 L559.21,349.40 L559.58,349.67 L559.95,349.93 L560.32,350.20 L560.69,350.46 L561.06,350.71 L561.43,350.97 L561.80,351.21 L562.17,351.46 L562.54,351.70 L562.91,351.94 L563.28,352.17 L563.65,352.40 L564.02,352.62 L564.39,352.84 L564.76,353.05 L565.13,353.27 L565.50,353.47 L565.88,353.67 L566.25,353.87 L566.62,354.06 L566.99,354.25 L567.36,354.43 L567.73,354.60 L568.10,354.78 L568.47,354.94 L568.84,355.10 L569.21,355.26 L569.58,355.41 L569.95,355.55 L570.32,355.69 L570.69,355.82 L571.06,355.95 L571.43,356.07 L571.80,356.19 L572.17,356.30 L572.55,356.40 L572.92,356.50 L573.29,356.60 L573.66,356.68 L574.03,356.76 L574.40,356.84 L574.77,356.91 L575.14,356.97 L575.51,357.03 L575.88,357.08 L576.25,357.12 L576.62,357.16 L576.99,357.19 L577.36,357.22 L577.73,357.24 L578.10,357.25 L578.47,357.26 L578.84,357.26 L579.22,357.25 L579.59,357.24 L579.96,357.22 L580.33,357.20 L580.70,357.17 L581.07,357.13 L581.44,357.08 L581.81,357.03 L582.18,356.97 L582.55,356.90 L582.92,356.83 L583.29,356.75 L583.66,356.67 L584.03,356.58 L584.40,356.48 L584.77,356.37 L585.14,356.26 L585.51,356.15 L585.89,356.02 L586.26,355.89 L586.63,355.76 L587.00,355.62 L587.37,355.47 L587.74,355.32 L588.11,355.16 L588.48,354.99 L588.85,354.82 L589.22,354.64 L589.59,354.46 L589.96,354.27 L590.33,354.08 L590.70,353.88 L591.07,353.68 L591.44,353.47 L591.81,353.25 L592.18,353.03 L592.56,352.81 L592.93,352.58 L593.30,352.34 L593.67,352.11 L594.04,351.86 L594.41,351.61 L594.78,351.36 L595.15,351.11 L595.52,350.85 L595.89,350.58 L596.26,350.31 L596.63,350.04 L597.00,349.77 L597.37,349.49 L597.74,349.20 L598.11,348.92 L598.48,348.63 L598.86,348.34 L599.23,348.04 L599.60,347.74 L599.97,347.44 L600.34,347.14 L600.71,346.83 L601.08,346.52 L601.45,346.21 L601.82,345.90 L602.19,345.59 L602.56,345.27 L602.93,344.95 L603.30,344.63 L603.67,344.31 L604.04,343.99 L604.41,343.67 L604.78,343.34 L605.15,343.02 L605.53,342.69 L605.90,342.36 L606.27,342.04 L606.64,341.71 L607.01,341.38 L607.38,341.10 L607.75,340.82 L608.12,340.55 L608.49,340.29 L608.86,340.03 L609.23,339.78 L609.60,339.53 L609.97,339.29 L610.34,339.07 L610.71,338.85 L611.08,338.65 L611.45,338.46 L611.82,338.29 L612.20,338.13 L612.57,337.99 L612.94,337.86 L613.31,337.75 L613.68,337.67 L614.05,337.60 L614.42,337.54 L614.79,337.51 L615.16,337.50 L615.53,337.51 L615.90,337.53 L616.27,337.58 L616.64,337.65 L617.01,337.73 L617.38,337.83 L617.75,337.95 L618.12,338.09 L618.49,338.25 L618.87,338.42 L619.24,338.60 L619.61,338.80 L619.98,339.01 L620.35,339.24 L620.72,339.47 L621.09,339.71 L621.46,339.96 L621.83,340.22 L622.20,340.49 L622.57,340.76 L622.94,341.03 L623.31,341.30" fill="none" stroke="#40aa68" stroke-width="1.1" stroke-linejoin="round" />
<path d="M450.42,341.30 L450.92,342.02 L451.41,342.73 L451.90,343.44 L452.40,344.15 L452.89,344.86 L453.39,345.57 L453.88,346.26 L454.37,346.96 L454.87,347.64 L455.36,348.32 L455.86,349.00 L456.35,349.66 L456.84,350.31 L457.34,350.96 L457.83,351.59 L458.32,352.21 L458.82,352.82 L459.31,353.42 L459.81,354.01 L460.30,354.58 L460.79,355.13 L461.29,355.67 L461.78,356.19 L462.28,356.70 L462.77,357.19 L463.26,357.66 L463.76,358.12 L464.25,358.55 L464.75,358.97 L465.24,359.37 L465.73,359.74 L466.23,360.10 L466.72,360.43 L467.21,360.75 L467.71,361.04 L468.20,361.31 L468.70,361.56 L469.19,361.78 L469.68,361.99 L470.18,362.17 L470.67,362.32 L471.17,362.46 L471.66,362.57 L472.15,362.65 L472.65,362.72 L473.14,362.75 L473.64,362.77 L474.13,362.75 L474.62,362.70 L475.12,362.60 L475.61,362.46 L476.10,362.28 L476.60,362.05 L477.09,361.79 L477.59,361.49 L478.08,361.15 L478.57,360.77 L479.07,360.35 L479.56,359.90 L480.06,359.41 L480.55,358.88 L481.04,358.32 L481.54,357.73 L482.03,357.10 L482.53,356.45 L483.02,355.76 L483.51,355.05 L484.01,354.31 L484.50,353.54 L484.99,352.75 L485.49,351.94 L485.98,351.11 L486.48,350.26 L486.97,349.39 L487.46,348.51 L487.96,347.61 L488.45,346.70 L488.95,345.78 L489.44,344.85 L489.93,343.91 L490.43,342.97 L490.92,342.03 L491.42,341.06 L491.91,340.03 L492.40,339.00 L492.90,337.98 L493.39,336.95 L493.88,335.93 L494.38,334.92 L494.87,333.91 L495.37,332.90 L495.86,331.91 L496.35,330.92 L496.85,329.94 L497.34,328.96 L497.84,328.00 L498.33,327.05 L498.82,326.11 L499.32,325.18 L499.81,324.27 L500.31,323.37 L500.80,322.48 L501.29,321.61 L501.79,320.76 L502.28,319.92 L502.77,319.10 L503.27,318.30 L503.76,317.51 L504.26,316.75 L504.75,316.00 L505.24,315.28 L505.74,314.58 L506.23,313.90 L506.73,313.24 L507.22,312.60 L507.71,311.99 L508.21,311.40 L508.70,310.84 L509.20,310.30 L509.69,309.78 L510.18,309.29 L510.68,308.83 L511.17,308.39 L511.66,307.98 L512.16,307.60 L512.65,307.25 L513.15,306.92 L513.64,306.62 L514.13,306.35 L514.63,306.10 L515.12,305.89 L515.62,305.70 L516.11,305.55 L516.60,305.42 L517.10,305.32 L517.59,305.25 L518.09,305.21 L518.58,305.20 L519.07,305.21 L519.57,305.25 L520.06,305.31 L520.55,305.40 L521.05,305.50 L521.54,305.63 L522.04,305.79 L522.53,305.96 L523.02,306.16 L523.52,306.38 L524.01,306.62 L524.51,306.89 L525.00,307.17 L525.49,307.48 L525.99,307.81 L526.48,308.16 L526.98,308.53 L527.47,308.93 L527.96,309.34 L528.46,309.78 L528.95,310.23 L529.44,310.71 L529.94,311.20 L530.43,311.71 L530.93,312.25 L531.42,312.80 L531.91,313.37 L532.41,313.95 L532.90,314.56 L533.40,315.18 L533.89,315.82 L534.38,316.47 L534.88,317.14 L535.37,317.83 L535.87,318.53 L536.36,319.24 L536.85,319.97 L537.35,320.72 L537.84,321.47 L538.33,322.24 L538.83,323.02 L539.32,323.82 L539.82,324.62 L540.31,325.43 L540.80,326.26 L541.30,327.09 L541.79,327.94 L542.29,328.79 L542.78,329.65 L543.27,330.52 L543.77,331.39 L544.26,332.27 L544.76,333.16 L545.25,334.05 L545.74,334.94 L546.24,335.85 L546.73,336.75 L547.22,337.66 L547.72,338.56 L548.21,339.48 L548.71,340.39 L549.20,341.30 L549.69,342.21 L550.19,343.12 L550.68,344.04 L551.18,344.94 L551.67,345.85 L552.16,346.75 L552.66,347.66 L553.15,348.55 L553.64,349.44 L554.14,350.33 L554.63,351.21 L555.13,352.08 L555.62,352.95 L556.11,353.81 L556.61,354.66 L557.10,355.51 L557.60,356.34 L558.09,357.17 L558.58,357.98 L559.08,358.78 L559.57,359.58 L560.07,360.36 L560.56,361.13 L561.05,361.88 L561.55,362.63 L562.04,363.36 L562.53,364.07 L563.03,364.77 L563.52,365.46 L564.02,366.13 L564.51,366.78 L565.00,367.42 L565.50,368.04 L565.99,368.65 L566.49,369.23 L566.98,369.80 L567.47,370.35 L567.97,370.89 L568.46,371.40 L568.96,371.89 L569.45,372.37 L569.94,372.82 L570.44,373.26 L570.93,373.67 L571.42,374.07 L571.92,374.44 L572.41,374.79 L572.91,375.12 L573.40,375.43 L573.89,375.71 L574.39,375.98 L574.88,376.22 L575.38,376.44 L575.87,376.64 L576.36,376.81 L576.86,376.97 L577.35,377.10 L577.85,377.20 L578.34,377.29 L578.83,377.35 L579.33,377.39 L579.82,377.40 L580.31,377.39 L580.81,377.35 L581.30,377.28 L581.80,377.18 L582.29,377.05 L582.78,376.90 L583.28,376.71 L583.77,376.50 L584.27,376.25 L584.76,375.98 L585.25,375.68 L585.75,375.35 L586.24,375.00 L586.74,374.62 L587.23,374.21 L587.72,373.77 L588.22,373.31 L588.71,372.82 L589.20,372.30 L589.70,371.76 L590.19,371.20 L590.69,370.61 L591.18,370.00 L591.67,369.36 L592.17,368.70 L592.66,368.02 L593.16,367.32 L593.65,366.60 L594.14,365.85 L594.64,365.09 L595.13,364.30 L595.63,363.50 L596.12,362.68 L596.61,361.84 L597.11,360.99 L597.60,360.12 L598.09,359.23 L598.59,358.33 L599.08,357.42 L599.58,356.49 L600.07,355.55 L600.56,354.60 L601.06,353.64 L601.55,352.66 L602.05,351.68 L602.54,350.69 L603.03,349.70 L603.53,348.69 L604.02,347.68 L604.52,346.67 L605.01,345.65 L605.50,344.62 L606.00,343.60 L606.49,342.57 L606.98,341.54 L607.48,340.57 L607.97,339.63 L608.47,338.69 L608.96,337.75 L609.45,336.82 L609.95,335.90 L610.44,334.99 L610.94,334.09 L611.43,333.21 L611.92,332.34 L612.42,331.49 L612.91,330.66 L613.41,329.85 L613.90,329.06 L614.39,328.29 L614.89,327.55 L615.38,326.84 L615.87,326.15 L616.37,325.50 L616.86,324.87 L617.36,324.28 L617.85,323.72 L618.34,323.19 L618.84,322.70 L619.33,322.25 L619.83,321.83 L620.32,321.45 L620.81,321.11 L621.31,320.81 L621.80,320.55 L622.30,320.32 L622.79,320.14 L623.28,320.00 L623.78,319.90 L624.27,319.85 L624.76,319.83 L625.26,319.85 L625.75,319.88 L626.25,319.95 L626.74,320.03 L627.23,320.14 L627.73,320.28 L628.22,320.43 L628.72,320.61 L629.21,320.82 L629.70,321.04 L630.20,321.29 L630.69,321.56 L631.19,321.85 L631.68,322.17 L632.17,322.50 L632.67,322.86 L633.16,323.23 L633.65,323.63 L634.15,324.05 L634.64,324.48 L635.14,324.94 L635.63,325.41 L636.12,325.90 L636.62,326.41 L637.11,326.93 L637.61,327.47 L638.10,328.02 L638.59,328.59 L639.09,329.18 L639.58,329.78 L640.08,330.39 L640.57,331.01 L641.06,331.64 L641.56,332.29 L642.05,332.94 L642.54,333.60 L643.04,334.28 L643.53,334.96 L644.03,335.64 L644.52,336.34 L645.01,337.03 L645.51,337.74 L646.00,338.45 L646.50,339.16 L646.99,339.87 L647.48,340.58 L647.98,341.30" fill="none" stroke="#c090f0" stroke-width="1.1" stroke-linejoin="round" />
<path d="M435.60,341.30 L436.17,342.37 L436.74,343.44 L437.30,344.51 L437.87,345.58 L438.44,346.64 L439.01,347.70 L439.58,348.75 L440.14,349.80 L440.71,350.85 L441.28,351.89 L441.85,352.92 L442.42,353.94 L442.98,354.96 L443.55,355.96 L444.12,356.96 L444.69,357.94 L445.26,358.91 L445.82,359.88 L446.39,360.82 L446.96,361.76 L447.53,362.68 L448.10,363.59 L448.66,364.48 L449.23,365.36 L449.80,366.22 L450.37,367.06 L450.94,367.89 L451.50,368.70 L452.07,369.49 L452.64,370.26 L453.21,371.01 L453.78,371.74 L454.34,372.45 L454.91,373.14 L455.48,373.80 L456.05,374.45 L456.62,375.07 L457.18,375.67 L457.75,376.25 L458.32,376.80 L458.89,377.33 L459.46,377.83 L460.02,378.31 L460.59,378.77 L461.16,379.20 L461.73,379.60 L462.30,379.98 L462.86,380.33 L463.43,380.65 L464.00,380.95 L464.57,381.22 L465.14,381.47 L465.70,381.69 L466.27,381.87 L466.84,382.04 L467.41,382.17 L467.98,382.28 L468.54,382.36 L469.11,382.41 L469.68,382.43 L470.25,382.42 L470.82,382.34 L471.38,382.18 L471.95,381.96 L472.52,381.66 L473.09,381.30 L473.66,380.87 L474.22,380.36 L474.79,379.79 L475.36,379.16 L475.93,378.45 L476.50,377.68 L477.06,376.85 L477.63,375.96 L478.20,375.01 L478.77,374.00 L479.34,372.93 L479.90,371.81 L480.47,370.63 L481.04,369.41 L481.61,368.13 L482.18,366.81 L482.74,365.45 L483.31,364.04 L483.88,362.59 L484.45,361.11 L485.02,359.59 L485.58,358.04 L486.15,356.46 L486.72,354.86 L487.29,353.23 L487.86,351.58 L488.42,349.91 L488.99,348.23 L489.56,346.53 L490.13,344.83 L490.70,343.12 L491.26,341.41 L491.83,339.65 L492.40,337.88 L492.97,336.12 L493.54,334.37 L494.10,332.62 L494.67,330.88 L495.24,329.15 L495.81,327.44 L496.38,325.74 L496.94,324.06 L497.51,322.40 L498.08,320.75 L498.65,319.13 L499.22,317.53 L499.78,315.96 L500.35,314.42 L500.92,312.90 L501.49,311.42 L502.06,309.96 L502.62,308.55 L503.19,307.16 L503.76,305.81 L504.33,304.50 L504.90,303.23 L505.46,302.01 L506.03,300.82 L506.60,299.68 L507.17,298.58 L507.74,297.53 L508.30,296.52 L508.87,295.56 L509.44,294.65 L510.01,293.80 L510.58,292.99 L511.14,292.23 L511.71,291.53 L512.28,290.88 L512.85,290.29 L513.42,289.75 L513.98,289.27 L514.55,288.84 L515.12,288.46 L515.69,288.15 L516.26,287.89 L516.82,287.69 L517.39,287.55 L517.96,287.46 L518.53,287.44 L519.10,287.46 L519.66,287.53 L520.23,287.64 L520.80,287.80 L521.37,288.01 L521.94,288.26 L522.50,288.56 L523.07,288.90 L523.64,289.28 L524.21,289.71 L524.78,290.18 L525.34,290.69 L525.91,291.25 L526.48,291.85 L527.05,292.49 L527.62,293.18 L528.18,293.90 L528.75,294.67 L529.32,295.47 L529.89,296.31 L530.46,297.19 L531.02,298.11 L531.59,299.06 L532.16,300.05 L532.73,301.08 L533.30,302.13 L533.86,303.23 L534.43,304.35 L535.00,305.51 L535.57,306.69 L536.14,307.90 L536.70,309.15 L537.27,310.42 L537.84,311.71 L538.41,313.03 L538.98,314.38 L539.54,315.75 L540.11,317.14 L540.68,318.55 L541.25,319.98 L541.82,321.42 L542.38,322.89 L542.95,324.37 L543.52,325.86 L544.09,327.37 L544.66,328.88 L545.22,330.41 L545.79,331.95 L546.36,333.50 L546.93,335.05 L547.50,336.61 L548.06,338.17 L548.63,339.73 L549.20,341.30 L549.77,342.87 L550.34,344.43 L550.90,345.99 L551.47,347.55 L552.04,349.10 L552.61,350.65 L553.18,352.19 L553.74,353.72 L554.31,355.23 L554.88,356.74 L555.45,358.23 L556.02,359.71 L556.58,361.18 L557.15,362.62 L557.72,364.05 L558.29,365.46 L558.86,366.85 L559.42,368.22 L559.99,369.57 L560.56,370.89 L561.13,372.18 L561.70,373.45 L562.26,374.70 L562.83,375.91 L563.40,377.09 L563.97,378.25 L564.54,379.37 L565.10,380.47 L565.67,381.52 L566.24,382.55 L566.81,383.54 L567.38,384.49 L567.94,385.41 L568.51,386.29 L569.08,387.13 L569.65,387.93 L570.22,388.70 L570.78,389.42 L571.35,390.11 L571.92,390.75 L572.49,391.35 L573.06,391.91 L573.62,392.42 L574.19,392.89 L574.76,393.32 L575.33,393.70 L575.90,394.04 L576.46,394.34 L577.03,394.59 L577.60,394.80 L578.17,394.96 L578.74,395.07 L579.30,395.14 L579.87,395.16 L580.44,395.14 L581.01,395.05 L581.58,394.91 L582.14,394.71 L582.71,394.45 L583.28,394.14 L583.85,393.76 L584.42,393.33 L584.98,392.85 L585.55,392.31 L586.12,391.72 L586.69,391.07 L587.26,390.37 L587.82,389.61 L588.39,388.80 L588.96,387.95 L589.53,387.04 L590.10,386.08 L590.66,385.07 L591.23,384.02 L591.80,382.92 L592.37,381.78 L592.94,380.59 L593.50,379.37 L594.07,378.10 L594.64,376.79 L595.21,375.44 L595.78,374.05 L596.34,372.64 L596.91,371.18 L597.48,369.70 L598.05,368.18 L598.62,366.64 L599.18,365.07 L599.75,363.47 L600.32,361.85 L600.89,360.20 L601.46,358.54 L602.02,356.86 L602.59,355.16 L603.16,353.45 L603.73,351.72 L604.30,349.98 L604.86,348.23 L605.43,346.48 L606.00,344.72 L606.57,342.95 L607.14,341.19 L607.70,339.48 L608.27,337.77 L608.84,336.07 L609.41,334.37 L609.98,332.69 L610.54,331.02 L611.11,329.37 L611.68,327.74 L612.25,326.14 L612.82,324.56 L613.38,323.01 L613.95,321.49 L614.52,320.01 L615.09,318.56 L615.66,317.15 L616.22,315.79 L616.79,314.47 L617.36,313.19 L617.93,311.97 L618.50,310.79 L619.06,309.67 L619.63,308.60 L620.20,307.59 L620.77,306.64 L621.34,305.75 L621.90,304.92 L622.47,304.15 L623.04,303.44 L623.61,302.81 L624.18,302.24 L624.74,301.73 L625.31,301.30 L625.88,300.94 L626.45,300.64 L627.02,300.42 L627.58,300.26 L628.15,300.18 L628.72,300.17 L629.29,300.19 L629.86,300.24 L630.42,300.32 L630.99,300.43 L631.56,300.56 L632.13,300.73 L632.70,300.91 L633.26,301.13 L633.83,301.38 L634.40,301.65 L634.97,301.95 L635.54,302.27 L636.10,302.62 L636.67,303.00 L637.24,303.40 L637.81,303.83 L638.38,304.29 L638.94,304.77 L639.51,305.27 L640.08,305.80 L640.65,306.35 L641.22,306.93 L641.78,307.53 L642.35,308.15 L642.92,308.80 L643.49,309.46 L644.06,310.15 L644.62,310.86 L645.19,311.59 L645.76,312.34 L646.33,313.11 L646.90,313.90 L647.46,314.71 L648.03,315.54 L648.60,316.38 L649.17,317.24 L649.74,318.12 L650.30,319.01 L650.87,319.92 L651.44,320.84 L652.01,321.78 L652.58,322.72 L653.14,323.69 L653.71,324.66 L654.28,325.64 L654.85,326.64 L655.42,327.64 L655.98,328.66 L656.55,329.68 L657.12,330.71 L657.69,331.75 L658.26,332.80 L658.82,333.85 L659.39,334.90 L659.96,335.96 L660.53,337.02 L661.10,338.09 L661.66,339.16 L662.23,340.23 L662.80,341.30" fill="none" stroke="#3a7be0" stroke-width="1.1" stroke-linejoin="round" />
<path d="M428.19,341.30 L428.79,342.57 L429.40,343.85 L430.00,345.12 L430.61,346.39 L431.21,347.66 L431.82,348.92 L432.42,350.18 L433.03,351.43 L433.63,352.68 L434.24,353.93 L434.84,355.16 L435.45,356.39 L436.05,357.61 L436.66,358.82 L437.26,360.03 L437.87,361.22 L438.47,362.40 L439.08,363.57 L439.69,364.73 L440.29,365.88 L440.90,367.01 L441.50,368.13 L442.11,369.24 L442.71,370.33 L443.32,371.40 L443.92,372.46 L444.53,373.50 L445.13,374.53 L445.74,375.54 L446.34,376.53 L446.95,377.50 L447.55,378.45 L448.16,379.38 L448.76,380.29 L449.37,381.18 L449.97,382.05 L450.58,382.89 L451.18,383.72 L451.79,384.52 L452.39,385.30 L453.00,386.05 L453.60,386.78 L454.21,387.49 L454.81,388.17 L455.42,388.83 L456.02,389.46 L456.63,390.07 L457.23,390.65 L457.84,391.20 L458.44,391.73 L459.05,392.23 L459.65,392.70 L460.26,393.14 L460.86,393.56 L461.47,393.95 L462.07,394.31 L462.68,394.65 L463.28,394.95 L463.89,395.23 L464.49,395.47 L465.10,395.69 L465.70,395.88 L466.31,396.04 L466.91,396.17 L467.52,396.27 L468.12,396.34 L468.73,396.39 L469.33,396.40 L469.94,396.34 L470.54,396.18 L471.15,395.92 L471.75,395.56 L472.36,395.09 L472.96,394.52 L473.57,393.86 L474.17,393.10 L474.78,392.24 L475.38,391.28 L475.99,390.23 L476.59,389.09 L477.20,387.87 L477.80,386.55 L478.41,385.15 L479.01,383.67 L479.62,382.11 L480.22,380.47 L480.83,378.76 L481.43,376.98 L482.04,375.13 L482.64,373.22 L483.25,371.26 L483.85,369.23 L484.46,367.15 L485.06,365.03 L485.67,362.86 L486.27,360.65 L486.88,358.40 L487.48,356.12 L488.09,353.82 L488.69,351.49 L489.30,349.14 L489.90,346.78 L490.51,344.41 L491.11,342.03 L491.72,339.61 L492.32,337.17 L492.93,334.74 L493.53,332.32 L494.14,329.90 L494.75,327.51 L495.35,325.12 L495.96,322.76 L496.56,320.42 L497.17,318.11 L497.77,315.82 L498.38,313.57 L498.98,311.35 L499.59,309.16 L500.19,307.02 L500.80,304.92 L501.40,302.86 L502.01,300.85 L502.61,298.88 L503.22,296.97 L503.82,295.12 L504.43,293.31 L505.03,291.57 L505.64,289.89 L506.24,288.27 L506.85,286.72 L507.45,285.23 L508.06,283.81 L508.66,282.46 L509.27,281.19 L509.87,279.98 L510.48,278.85 L511.08,277.80 L511.69,276.83 L512.29,275.93 L512.90,275.11 L513.50,274.38 L514.11,273.72 L514.71,273.15 L515.32,272.66 L515.92,272.25 L516.53,271.93 L517.13,271.70 L517.74,271.55 L518.34,271.48 L518.95,271.49 L519.55,271.57 L520.16,271.72 L520.76,271.94 L521.37,272.22 L521.97,272.57 L522.58,272.98 L523.18,273.46 L523.79,274.00 L524.39,274.61 L525.00,275.29 L525.60,276.02 L526.21,276.82 L526.81,277.68 L527.42,278.60 L528.02,279.59 L528.63,280.63 L529.23,281.73 L529.84,282.88 L530.44,284.10 L531.05,285.36 L531.65,286.68 L532.26,288.06 L532.86,289.48 L533.47,290.96 L534.07,292.48 L534.68,294.05 L535.28,295.66 L535.89,297.32 L536.49,299.02 L537.10,300.76 L537.70,302.54 L538.31,304.36 L538.91,306.21 L539.52,308.10 L540.12,310.02 L540.73,311.96 L541.33,313.94 L541.94,315.94 L542.54,317.97 L543.15,320.02 L543.75,322.09 L544.36,324.18 L544.96,326.28 L545.57,328.40 L546.17,330.53 L546.78,332.67 L547.38,334.82 L547.99,336.98 L548.59,339.14 L549.20,341.30 L549.81,343.46 L550.41,345.62 L551.02,347.78 L551.62,349.93 L552.23,352.07 L552.83,354.20 L553.44,356.32 L554.04,358.42 L554.65,360.51 L555.25,362.58 L555.86,364.63 L556.46,366.66 L557.07,368.66 L557.67,370.64 L558.28,372.58 L558.88,374.50 L559.49,376.39 L560.09,378.24 L560.70,380.06 L561.30,381.84 L561.91,383.58 L562.51,385.28 L563.12,386.94 L563.72,388.55 L564.33,390.12 L564.93,391.64 L565.54,393.12 L566.14,394.54 L566.75,395.92 L567.35,397.24 L567.96,398.50 L568.56,399.72 L569.17,400.87 L569.77,401.97 L570.38,403.01 L570.98,404.00 L571.59,404.92 L572.19,405.78 L572.80,406.58 L573.40,407.31 L574.01,407.99 L574.61,408.60 L575.22,409.14 L575.82,409.62 L576.43,410.03 L577.03,410.38 L577.64,410.66 L578.24,410.88 L578.85,411.03 L579.45,411.11 L580.06,411.12 L580.66,411.05 L581.27,410.90 L581.87,410.67 L582.48,410.35 L583.08,409.94 L583.69,409.45 L584.29,408.88 L584.90,408.22 L585.50,407.49 L586.11,406.67 L586.71,405.77 L587.32,404.80 L587.92,403.75 L588.53,402.62 L589.13,401.41 L589.74,400.14 L590.34,398.79 L590.95,397.37 L591.55,395.88 L592.16,394.33 L592.76,392.71 L593.37,391.03 L593.97,389.29 L594.58,387.48 L595.18,385.63 L595.79,383.72 L596.39,381.75 L597.00,379.74 L597.60,377.68 L598.21,375.58 L598.81,373.44 L599.42,371.25 L600.02,369.03 L600.63,366.78 L601.23,364.49 L601.84,362.18 L602.44,359.84 L603.05,357.48 L603.65,355.09 L604.26,352.70 L604.87,350.28 L605.47,347.86 L606.08,345.43 L606.68,342.99 L607.29,340.57 L607.89,338.19 L608.50,335.82 L609.10,333.46 L609.71,331.11 L610.31,328.78 L610.92,326.48 L611.52,324.20 L612.13,321.95 L612.73,319.74 L613.34,317.57 L613.94,315.45 L614.55,313.37 L615.15,311.34 L615.76,309.38 L616.36,307.47 L616.97,305.62 L617.57,303.84 L618.18,302.13 L618.78,300.49 L619.39,298.93 L619.99,297.45 L620.60,296.05 L621.20,294.73 L621.81,293.51 L622.41,292.37 L623.02,291.32 L623.62,290.36 L624.23,289.50 L624.83,288.74 L625.44,288.08 L626.04,287.51 L626.65,287.04 L627.25,286.68 L627.86,286.42 L628.46,286.26 L629.07,286.20 L629.67,286.21 L630.28,286.26 L630.88,286.33 L631.49,286.43 L632.09,286.56 L632.70,286.72 L633.30,286.91 L633.91,287.13 L634.51,287.37 L635.12,287.65 L635.72,287.95 L636.33,288.29 L636.93,288.65 L637.54,289.04 L638.14,289.46 L638.75,289.90 L639.35,290.37 L639.96,290.87 L640.56,291.40 L641.17,291.95 L641.77,292.53 L642.38,293.14 L642.98,293.77 L643.59,294.43 L644.19,295.11 L644.80,295.82 L645.40,296.55 L646.01,297.30 L646.61,298.08 L647.22,298.88 L647.82,299.71 L648.43,300.55 L649.03,301.42 L649.64,302.31 L650.24,303.22 L650.85,304.15 L651.45,305.10 L652.06,306.07 L652.66,307.06 L653.27,308.07 L653.87,309.10 L654.48,310.14 L655.08,311.20 L655.69,312.27 L656.29,313.36 L656.90,314.47 L657.50,315.59 L658.11,316.72 L658.71,317.87 L659.32,319.03 L659.93,320.20 L660.53,321.38 L661.14,322.57 L661.74,323.78 L662.35,324.99 L662.95,326.21 L663.56,327.44 L664.16,328.67 L664.77,329.92 L665.37,331.17 L665.98,332.42 L666.58,333.68 L667.19,334.94 L667.79,336.21 L668.40,337.48 L669.00,338.75 L669.61,340.03 L670.21,341.30" fill="none" stroke="#e84848" stroke-width="1.1" stroke-linejoin="round" />
<path d="M425.64,341.30 L426.26,342.67 L426.88,344.03 L427.49,345.39 L428.11,346.76 L428.73,348.11 L429.35,349.47 L429.97,350.82 L430.58,352.17 L431.20,353.51 L431.82,354.84 L432.44,356.17 L433.05,357.49 L433.67,358.80 L434.29,360.10 L434.91,361.39 L435.53,362.67 L436.14,363.94 L436.76,365.20 L437.38,366.45 L438.00,367.68 L438.62,368.90 L439.23,370.11 L439.85,371.30 L440.47,372.48 L441.09,373.64 L441.70,374.78 L442.32,375.91 L442.94,377.01 L443.56,378.10 L444.18,379.17 L444.79,380.22 L445.41,381.26 L446.03,382.27 L446.65,383.26 L447.26,384.22 L447.88,385.17 L448.50,386.09 L449.12,386.99 L449.74,387.87 L450.35,388.72 L450.97,389.55 L451.59,390.35 L452.21,391.13 L452.82,391.88 L453.44,392.60 L454.06,393.30 L454.68,393.98 L455.30,394.62 L455.91,395.24 L456.53,395.83 L457.15,396.39 L457.77,396.92 L458.38,397.43 L459.00,397.90 L459.62,398.35 L460.24,398.77 L460.86,399.15 L461.47,399.51 L462.09,399.84 L462.71,400.14 L463.33,400.40 L463.94,400.64 L464.56,400.85 L465.18,401.02 L465.80,401.17 L466.42,401.28 L467.03,401.36 L467.65,401.41 L468.27,401.43 L468.89,401.40 L469.50,401.25 L470.12,401.00 L470.74,400.64 L471.36,400.18 L471.98,399.61 L472.59,398.94 L473.21,398.16 L473.83,397.28 L474.45,396.30 L475.06,395.22 L475.68,394.05 L476.30,392.78 L476.92,391.42 L477.54,389.97 L478.15,388.43 L478.77,386.81 L479.39,385.10 L480.01,383.32 L480.62,381.46 L481.24,379.53 L481.86,377.53 L482.48,375.47 L483.10,373.35 L483.71,371.16 L484.33,368.93 L484.95,366.64 L485.57,364.31 L486.19,361.94 L486.80,359.54 L487.42,357.09 L488.04,354.63 L488.66,352.13 L489.27,349.62 L489.89,347.09 L490.51,344.55 L491.13,342.01 L491.75,339.33 L492.36,336.59 L492.98,333.86 L493.60,331.15 L494.22,328.44 L494.83,325.75 L495.45,323.08 L496.07,320.43 L496.69,317.81 L497.31,315.22 L497.92,312.66 L498.54,310.14 L499.16,307.66 L499.78,305.22 L500.39,302.83 L501.01,300.49 L501.63,298.19 L502.25,295.96 L502.87,293.78 L503.48,291.66 L504.10,289.60 L504.72,287.61 L505.34,285.69 L505.95,283.84 L506.57,282.06 L507.19,280.36 L507.81,278.73 L508.43,277.19 L509.04,275.72 L509.66,274.34 L510.28,273.05 L510.90,271.84 L511.51,270.72 L512.13,269.69 L512.75,268.75 L513.37,267.90 L513.99,267.15 L514.60,266.49 L515.22,265.92 L515.84,265.45 L516.46,265.08 L517.07,264.80 L517.69,264.63 L518.31,264.55 L518.93,264.56 L519.55,264.65 L520.16,264.81 L520.78,265.06 L521.40,265.38 L522.02,265.77 L522.63,266.24 L523.25,266.79 L523.87,267.41 L524.49,268.10 L525.11,268.87 L525.72,269.71 L526.34,270.62 L526.96,271.60 L527.58,272.66 L528.20,273.78 L528.81,274.96 L529.43,276.22 L530.05,277.54 L530.67,278.92 L531.28,280.37 L531.90,281.87 L532.52,283.44 L533.14,285.06 L533.76,286.74 L534.37,288.48 L534.99,290.26 L535.61,292.10 L536.23,293.99 L536.84,295.92 L537.46,297.90 L538.08,299.93 L538.70,301.99 L539.32,304.10 L539.93,306.24 L540.55,308.42 L541.17,310.63 L541.79,312.87 L542.40,315.13 L543.02,317.43 L543.64,319.75 L544.26,322.09 L544.88,324.45 L545.49,326.82 L546.11,329.21 L546.73,331.62 L547.35,334.03 L547.96,336.45 L548.58,338.87 L549.20,341.30 L549.82,343.73 L550.44,346.15 L551.05,348.57 L551.67,350.98 L552.29,353.39 L552.91,355.78 L553.52,358.15 L554.14,360.51 L554.76,362.85 L555.38,365.17 L556.00,367.47 L556.61,369.73 L557.23,371.97 L557.85,374.18 L558.47,376.36 L559.08,378.50 L559.70,380.61 L560.32,382.67 L560.94,384.70 L561.56,386.68 L562.17,388.61 L562.79,390.50 L563.41,392.34 L564.03,394.12 L564.64,395.86 L565.26,397.54 L565.88,399.16 L566.50,400.73 L567.12,402.23 L567.73,403.68 L568.35,405.06 L568.97,406.38 L569.59,407.64 L570.20,408.82 L570.82,409.94 L571.44,411.00 L572.06,411.98 L572.68,412.89 L573.29,413.73 L573.91,414.50 L574.53,415.19 L575.15,415.81 L575.77,416.36 L576.38,416.83 L577.00,417.22 L577.62,417.54 L578.24,417.79 L578.85,417.95 L579.47,418.04 L580.09,418.05 L580.71,417.97 L581.33,417.80 L581.94,417.52 L582.56,417.15 L583.18,416.68 L583.80,416.11 L584.41,415.45 L585.03,414.70 L585.65,413.85 L586.27,412.91 L586.89,411.88 L587.50,410.76 L588.12,409.55 L588.74,408.26 L589.36,406.88 L589.97,405.41 L590.59,403.87 L591.21,402.24 L591.83,400.54 L592.45,398.76 L593.06,396.91 L593.68,394.99 L594.30,393.00 L594.92,390.94 L595.53,388.82 L596.15,386.64 L596.77,384.41 L597.39,382.11 L598.01,379.77 L598.62,377.38 L599.24,374.94 L599.86,372.46 L600.48,369.94 L601.09,367.38 L601.71,364.79 L602.33,362.17 L602.95,359.52 L603.57,356.85 L604.18,354.16 L604.80,351.45 L605.42,348.74 L606.04,346.01 L606.65,343.27 L607.27,340.59 L607.89,338.05 L608.51,335.51 L609.13,332.98 L609.74,330.47 L610.36,327.97 L610.98,325.51 L611.60,323.06 L612.21,320.66 L612.83,318.29 L613.45,315.96 L614.07,313.67 L614.69,311.44 L615.30,309.25 L615.92,307.13 L616.54,305.07 L617.16,303.07 L617.78,301.14 L618.39,299.28 L619.01,297.50 L619.63,295.79 L620.25,294.17 L620.86,292.63 L621.48,291.18 L622.10,289.82 L622.72,288.55 L623.34,287.38 L623.95,286.30 L624.57,285.32 L625.19,284.44 L625.81,283.66 L626.42,282.99 L627.04,282.42 L627.66,281.96 L628.28,281.60 L628.90,281.35 L629.51,281.20 L630.13,281.17 L630.75,281.19 L631.37,281.24 L631.98,281.32 L632.60,281.43 L633.22,281.58 L633.84,281.75 L634.46,281.96 L635.07,282.20 L635.69,282.46 L636.31,282.76 L636.93,283.09 L637.54,283.45 L638.16,283.83 L638.78,284.25 L639.40,284.70 L640.02,285.17 L640.63,285.68 L641.25,286.21 L641.87,286.77 L642.49,287.36 L643.10,287.98 L643.72,288.62 L644.34,289.30 L644.96,290.00 L645.58,290.72 L646.19,291.47 L646.81,292.25 L647.43,293.05 L648.05,293.88 L648.66,294.73 L649.28,295.61 L649.90,296.51 L650.52,297.43 L651.14,298.38 L651.75,299.34 L652.37,300.33 L652.99,301.34 L653.61,302.38 L654.22,303.43 L654.84,304.50 L655.46,305.59 L656.08,306.69 L656.70,307.82 L657.31,308.96 L657.93,310.12 L658.55,311.30 L659.17,312.49 L659.78,313.70 L660.40,314.92 L661.02,316.15 L661.64,317.40 L662.26,318.66 L662.87,319.93 L663.49,321.21 L664.11,322.50 L664.73,323.80 L665.35,325.11 L665.96,326.43 L666.58,327.76 L667.20,329.09 L667.82,330.43 L668.43,331.78 L669.05,333.13 L669.67,334.49 L670.29,335.84 L670.91,337.21 L671.52,338.57 L672.14,339.93 L672.76,341.30" fill="none" stroke="#505050" stroke-width="1.1" stroke-linejoin="round" />
<rect x="421.7" y="246.4" width="255.7" height="189.9" fill="none" stroke="#555" stroke-width="1.2"/>
<line x1="433.40" y1="436.30" x2="433.40" y2="431.80" stroke="#555" stroke-width="1" />
<line x1="433.40" y1="246.40" x2="433.40" y2="250.90" stroke="#555" stroke-width="1" />
<line x1="491.30" y1="436.30" x2="491.30" y2="431.80" stroke="#555" stroke-width="1" />
<line x1="491.30" y1="246.40" x2="491.30" y2="250.90" stroke="#555" stroke-width="1" />
<line x1="549.20" y1="436.30" x2="549.20" y2="431.80" stroke="#555" stroke-width="1" />
<line x1="549.20" y1="246.40" x2="549.20" y2="250.90" stroke="#555" stroke-width="1" />
<line x1="607.10" y1="436.30" x2="607.10" y2="431.80" stroke="#555" stroke-width="1" />
<line x1="607.10" y1="246.40" x2="607.10" y2="250.90" stroke="#555" stroke-width="1" />
<line x1="665.00" y1="436.30" x2="665.00" y2="431.80" stroke="#555" stroke-width="1" />
<line x1="665.00" y1="246.40" x2="665.00" y2="250.90" stroke="#555" stroke-width="1" />
<line x1="462.35" y1="436.30" x2="462.35" y2="433.80" stroke="#555" stroke-width="1" />
<line x1="462.35" y1="246.40" x2="462.35" y2="248.90" stroke="#555" stroke-width="1" />
<line x1="520.25" y1="436.30" x2="520.25" y2="433.80" stroke="#555" stroke-width="1" />
<line x1="520.25" y1="246.40" x2="520.25" y2="248.90" stroke="#555" stroke-width="1" />
<line x1="578.15" y1="436.30" x2="578.15" y2="433.80" stroke="#555" stroke-width="1" />
<line x1="578.15" y1="246.40" x2="578.15" y2="248.90" stroke="#555" stroke-width="1" />
<line x1="636.05" y1="436.30" x2="636.05" y2="433.80" stroke="#555" stroke-width="1" />
<line x1="636.05" y1="246.40" x2="636.05" y2="248.90" stroke="#555" stroke-width="1" />
<line x1="421.70" y1="436.30" x2="426.20" y2="436.30" stroke="#555" stroke-width="1" />
<line x1="677.40" y1="436.30" x2="672.90" y2="436.30" stroke="#555" stroke-width="1" />
<line x1="421.70" y1="388.80" x2="426.20" y2="388.80" stroke="#555" stroke-width="1" />
<line x1="677.40" y1="388.80" x2="672.90" y2="388.80" stroke="#555" stroke-width="1" />
<line x1="421.70" y1="341.30" x2="426.20" y2="341.30" stroke="#555" stroke-width="1" />
<line x1="677.40" y1="341.30" x2="672.90" y2="341.30" stroke="#555" stroke-width="1" />
<line x1="421.70" y1="293.80" x2="426.20" y2="293.80" stroke="#555" stroke-width="1" />
<line x1="677.40" y1="293.80" x2="672.90" y2="293.80" stroke="#555" stroke-width="1" />
<line x1="421.70" y1="246.30" x2="426.20" y2="246.30" stroke="#555" stroke-width="1" />
<line x1="677.40" y1="246.30" x2="672.90" y2="246.30" stroke="#555" stroke-width="1" />
<line x1="421.70" y1="412.55" x2="424.50" y2="412.55" stroke="#555" stroke-width="1" />
<line x1="677.40" y1="412.55" x2="674.60" y2="412.55" stroke="#555" stroke-width="1" />
<line x1="421.70" y1="365.05" x2="424.50" y2="365.05" stroke="#555" stroke-width="1" />
<line x1="677.40" y1="365.05" x2="674.60" y2="365.05" stroke="#555" stroke-width="1" />
<line x1="421.70" y1="317.55" x2="424.50" y2="317.55" stroke="#555" stroke-width="1" />
<line x1="677.40" y1="317.55" x2="674.60" y2="317.55" stroke="#555" stroke-width="1" />
<line x1="421.70" y1="270.05" x2="424.50" y2="270.05" stroke="#555" stroke-width="1" />
<line x1="677.40" y1="270.05" x2="674.60" y2="270.05" stroke="#555" stroke-width="1" />
<text x="417.5" y="249.5" font-family="&quot;Liberation Serif&quot;, serif" font-size="9.4" text-anchor="end" fill="#222">0.10</text>
<text x="417.5" y="297.0" font-family="&quot;Liberation Serif&quot;, serif" font-size="9.4" text-anchor="end" fill="#222">0.05</text>
<text x="417.5" y="344.5" font-family="&quot;Liberation Serif&quot;, serif" font-size="9.4" text-anchor="end" fill="#222">0.00</text>
<text x="417.5" y="392.0" font-family="&quot;Liberation Serif&quot;, serif" font-size="9.4" text-anchor="end" fill="#222">-0.05</text>
<text x="417.5" y="439.5" font-family="&quot;Liberation Serif&quot;, serif" font-size="9.4" text-anchor="end" fill="#222">-0.10</text>
<text x="433.4" y="448.8" font-family="&quot;Liberation Serif&quot;, serif" font-size="9.4" text-anchor="middle" fill="#222">-1.0</text>
<text x="491.3" y="448.8" font-family="&quot;Liberation Serif&quot;, serif" font-size="9.4" text-anchor="middle" fill="#222">-0.5</text>
<text x="549.2" y="448.8" font-family="&quot;Liberation Serif&quot;, serif" font-size="9.4" text-anchor="middle" fill="#222">0.0</text>
<text x="607.1" y="448.8" font-family="&quot;Liberation Serif&quot;, serif" font-size="9.4" text-anchor="middle" fill="#222">0.5</text>
<text x="665.0" y="448.8" font-family="&quot;Liberation Serif&quot;, serif" font-size="9.4" text-anchor="middle" fill="#222">1.0</text>
<text id="f_xl" transform="translate(535.19 464.61) scale(1.1260 1.1057)" x="0" y="0" font-family="&quot;Liberation Serif&quot;, serif" font-weight="normal" font-size="12.5" fill="#111">Φ/Φ<tspan font-style="normal" font-size="9" dy="3.5">0</tspan></text>
<text transform="translate(392.5,342.4) rotate(-90) scale(1.115,0.88)" font-family="&quot;Liberation Serif&quot;, serif" font-size="12.5" text-anchor="middle" fill="#111"><tspan font-style="normal">Δ</tspan><tspan font-style="italic">I</tspan><tspan font-style="normal" dx="5.5">[2Φ</tspan><tspan font-style="normal" font-size="9" dy="3">0</tspan><tspan font-style="normal" dy="-3">/(π</tspan><tspan font-style="italic">L</tspan><tspan font-style="normal" font-size="9" dy="3">2</tspan><tspan font-style="italic" dy="-3">I</tspan><tspan font-style="italic" font-size="9" dy="3">J</tspan><tspan font-style="normal" dy="-3">)]</tspan></text>
<text id="f_leg" transform="translate(446.44 264.16) scale(0.9402 1.1121)" x="0" y="0" font-family="&quot;Liberation Serif&quot;, serif" font-weight="normal" font-size="10" fill="#222">B<tspan font-style="normal" font-size="7" dy="2">x</tspan><tspan font-style="normal" dy="-2">/B</tspan><tspan font-style="normal" font-size="7" dy="2">cx</tspan></text>
<line x1="437.60" y1="273.40" x2="458.30" y2="273.40" stroke="#505050" stroke-width="1.2" />
<text x="460.5" y="276.7" font-family="&quot;Liberation Serif&quot;, serif" font-size="9.6" fill="#222">0</text>
<line x1="437.60" y1="285.35" x2="458.30" y2="285.35" stroke="#e84848" stroke-width="1.2" />
<text x="460.5" y="288.6" font-family="&quot;Liberation Serif&quot;, serif" font-size="9.6" fill="#222">0.2</text>
<line x1="437.60" y1="297.30" x2="458.30" y2="297.30" stroke="#3a7be0" stroke-width="1.2" />
<text x="460.5" y="300.6" font-family="&quot;Liberation Serif&quot;, serif" font-size="9.6" fill="#222">0.4</text>
<line x1="437.60" y1="309.25" x2="458.30" y2="309.25" stroke="#40aa68" stroke-width="1.2" />
<text x="460.5" y="312.6" font-family="&quot;Liberation Serif&quot;, serif" font-size="9.6" fill="#222">0.6</text>
<line x1="437.60" y1="321.20" x2="458.30" y2="321.20" stroke="#c090f0" stroke-width="1.2" />
<text x="460.5" y="324.5" font-family="&quot;Liberation Serif&quot;, serif" font-size="9.6" fill="#222">0.8</text>
</svg>
</body></html>
